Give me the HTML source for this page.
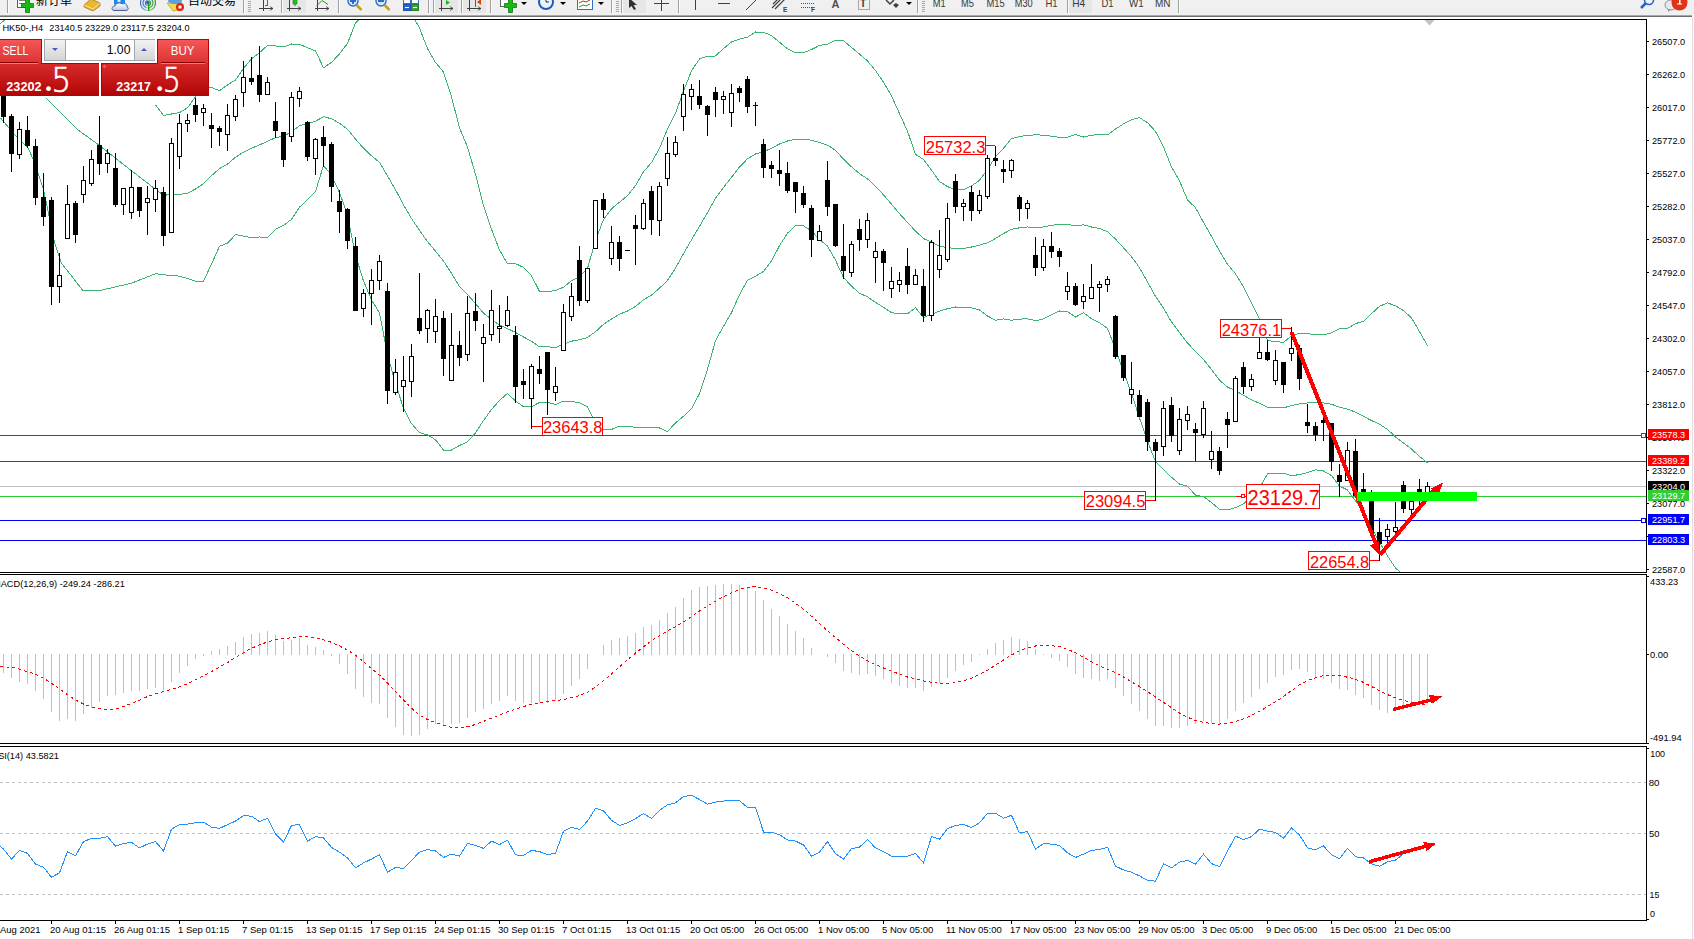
<!DOCTYPE html><html><head><meta charset="utf-8"><style>html,body{margin:0;padding:0}body{width:1694px;height:939px;overflow:hidden;background:#fff;position:relative}</style></head><body>
<svg width="1694" height="939" viewBox="0 0 1694 939" style="position:absolute;left:0;top:0" shape-rendering="crispEdges">
<g fill="#000">
<rect x="0" y="19" width="1647" height="1"/>
<rect x="1646" y="19" width="1" height="554"/>
<rect x="0" y="572" width="1647" height="1"/>
<rect x="0" y="574" width="1647" height="1"/>
<rect x="1646" y="574" width="1" height="170"/>
<rect x="0" y="743" width="1647" height="1"/>
<rect x="0" y="746" width="1647" height="1"/>
<rect x="1646" y="746" width="1" height="175"/>
<rect x="0" y="920" width="1647" height="1"/>
</g>
<defs><clipPath id="cm"><rect x="0" y="20" width="1646" height="552"/></clipPath><clipPath id="cmacd"><rect x="0" y="575" width="1646" height="168"/></clipPath><clipPath id="crsi"><rect x="0" y="747" width="1646" height="173"/></clipPath></defs>
<g clip-path="url(#cm)">
<rect x="0" y="435" width="1646" height="1" fill="#ff0000"/>
<rect x="0" y="461" width="1646" height="1" fill="#ff0000"/>
<rect x="0" y="486" width="1646" height="1" fill="#c0c0c0"/>
<rect x="0" y="496" width="1646" height="1" fill="#32cd32"/>
<rect x="0" y="520" width="1646" height="1" fill="#0000ff"/>
<rect x="0" y="540" width="1646" height="1" fill="#0000ff"/>
<rect x="1641.5" y="433.5" width="4" height="4" fill="#fff" stroke="#ff0000" stroke-width="1"/>
<rect x="1641.5" y="518.5" width="4" height="4" fill="#fff" stroke="#0000ff" stroke-width="1"/>
<polyline points="155.5,104.8 163.5,115.6 171.5,114.0 179.5,112.6 187.5,107.8 195.5,96.9 203.5,86.0 211.5,87.4 219.5,90.8 227.5,84.9 235.5,80.1 243.5,68.3 251.5,58.9 259.5,52.7 267.5,45.4 275.5,45.9 283.5,46.9 291.5,44.0 299.5,44.2 307.5,47.8 315.5,50.9 323.5,67.8 331.5,62.4 339.5,53.9 347.5,43.4 355.5,23.0 363.5,15.4 371.5,11.6 379.5,11.6 387.5,-2.5 395.5,-4.2 403.5,1.4 411.5,13.4 419.5,28.0 427.5,48.6 435.5,62.5 443.5,72.0 451.5,96.8 459.5,127.9 467.5,147.2 475.5,174.3 483.5,205.8 491.5,229.2 499.5,249.9 507.5,263.8 515.5,263.7 523.5,267.3 531.5,275.8 539.5,291.4 547.5,291.5 555.5,290.6 563.5,287.2 571.5,280.7 579.5,276.7 587.5,268.3 595.5,240.5 603.5,219.5 611.5,208.8 619.5,202.2 627.5,195.6 635.5,185.6 643.5,171.8 651.5,162.6 659.5,148.3 667.5,129.0 675.5,113.4 683.5,91.0 691.5,70.8 699.5,59.0 707.5,56.2 715.5,56.0 723.5,48.5 731.5,42.0 739.5,39.1 747.5,37.2 755.5,32.0 763.5,32.3 771.5,35.5 779.5,42.2 787.5,48.8 795.5,52.7 803.5,52.6 811.5,49.6 819.5,45.4 827.5,44.2 835.5,40.4 843.5,40.7 851.5,47.5 859.5,54.0 867.5,60.9 875.5,70.5 883.5,82.3 891.5,95.8 899.5,113.6 907.5,131.2 915.5,154.4 923.5,159.4 931.5,170.2 939.5,181.5 947.5,186.6 955.5,189.9 963.5,189.6 971.5,186.0 979.5,180.3 987.5,169.5 995.5,156.8 1003.5,148.2 1011.5,138.5 1019.5,136.6 1027.5,135.2 1035.5,134.9 1043.5,135.1 1051.5,136.2 1059.5,137.4 1067.5,137.2 1075.5,134.5 1083.5,137.0 1091.5,135.3 1099.5,134.2 1107.5,134.9 1115.5,129.1 1123.5,123.9 1131.5,119.8 1139.5,117.6 1147.5,122.6 1155.5,131.4 1163.5,147.0 1171.5,166.8 1179.5,181.0 1187.5,199.9 1195.5,207.7 1203.5,222.3 1211.5,236.4 1219.5,251.1 1227.5,264.3 1235.5,273.9 1243.5,286.8 1251.5,302.8 1259.5,318.6 1267.5,340.7 1275.5,341.5 1283.5,342.4 1291.5,335.8 1299.5,333.1 1307.5,333.6 1315.5,334.7 1323.5,334.9 1331.5,332.9 1339.5,328.6 1347.5,328.3 1355.5,323.6 1363.5,321.3 1371.5,313.6 1379.5,306.3 1387.5,302.9 1395.5,305.8 1403.5,310.6 1411.5,317.8 1419.5,331.5 1427.5,345.7" fill="none" stroke="#3cb371" stroke-width="1" />
<polyline points="0.0,24.0 7.0,18.0" fill="none" stroke="#3cb371" stroke-width="1" />
<polyline points="46.2,98.2 77.8,129.8 98.9,145.0 131.5,170.8 155.5,189.2 163.5,195.2 171.5,194.7 179.5,194.4 187.5,193.2 195.5,189.0 203.5,183.6 211.5,175.7 219.5,168.5 227.5,164.1 235.5,157.3 243.5,152.2 251.5,148.3 259.5,144.9 267.5,141.3 275.5,137.6 283.5,136.2 291.5,131.7 299.5,125.7 307.5,123.6 315.5,121.2 323.5,116.7 331.5,118.8 339.5,123.2 347.5,129.2 355.5,139.0 363.5,148.2 371.5,155.8 379.5,162.3 387.5,176.0 395.5,189.7 403.5,204.8 411.5,218.5 419.5,230.3 427.5,241.7 435.5,251.1 443.5,261.0 451.5,273.4 459.5,286.7 467.5,294.5 475.5,303.6 483.5,313.2 491.5,319.4 499.5,325.1 507.5,328.6 515.5,332.4 523.5,337.0 531.5,341.3 539.5,346.9 547.5,346.8 555.5,347.5 563.5,344.2 571.5,341.2 579.5,339.7 587.5,337.5 595.5,331.7 603.5,324.3 611.5,319.1 619.5,314.2 627.5,311.0 635.5,306.4 643.5,299.7 651.5,295.1 659.5,288.2 667.5,280.3 675.5,268.1 683.5,253.6 691.5,239.8 699.5,226.3 707.5,212.6 715.5,198.3 723.5,187.4 731.5,177.3 739.5,166.9 747.5,158.8 755.5,154.0 763.5,151.9 771.5,148.2 779.5,144.0 787.5,141.0 795.5,139.2 803.5,139.2 811.5,140.2 819.5,142.5 827.5,145.1 835.5,150.3 843.5,159.1 851.5,166.8 859.5,173.6 867.5,178.8 875.5,186.5 883.5,194.8 891.5,204.2 899.5,213.7 907.5,222.5 915.5,231.0 923.5,238.5 931.5,242.2 939.5,246.3 947.5,247.7 955.5,248.4 963.5,248.4 971.5,247.0 979.5,245.1 987.5,242.8 995.5,238.5 1003.5,233.5 1011.5,229.4 1019.5,227.8 1027.5,227.0 1035.5,227.8 1043.5,227.0 1051.5,225.4 1059.5,224.2 1067.5,224.3 1075.5,225.8 1083.5,224.8 1091.5,227.0 1099.5,228.5 1107.5,231.6 1115.5,239.1 1123.5,247.8 1131.5,256.7 1139.5,267.8 1147.5,281.9 1155.5,296.4 1163.5,308.3 1171.5,322.0 1179.5,332.5 1187.5,343.1 1195.5,351.4 1203.5,359.5 1211.5,369.5 1219.5,380.2 1227.5,387.1 1235.5,390.8 1243.5,395.3 1251.5,399.9 1259.5,403.2 1267.5,407.2 1275.5,407.4 1283.5,407.8 1291.5,405.7 1299.5,403.8 1307.5,403.0 1315.5,402.2 1323.5,402.9 1331.5,404.2 1339.5,407.3 1347.5,409.1 1355.5,412.2 1363.5,416.4 1371.5,420.5 1379.5,424.2 1387.5,429.4 1395.5,436.9 1403.5,443.0 1411.5,449.1 1419.5,456.4 1427.5,462.8" fill="none" stroke="#3cb371" stroke-width="1" />
<polyline points="0.5,118.0 14.5,134.5 28.5,148.5 35.5,165.0 43.8,190.7 54.4,242.2 61.5,263.3 70.8,275.0 82.5,290.2 101.2,290.2 131.5,283.2 155.5,273.7 163.5,274.8 171.5,275.4 179.5,276.2 187.5,278.5 195.5,281.1 203.5,281.2 211.5,264.1 219.5,246.2 227.5,243.2 235.5,234.6 243.5,236.1 251.5,237.7 259.5,237.0 267.5,237.3 275.5,229.3 283.5,225.4 291.5,219.4 299.5,207.2 307.5,199.5 315.5,191.5 323.5,165.5 331.5,175.2 339.5,192.5 347.5,215.0 355.5,255.0 363.5,281.0 371.5,299.9 379.5,313.0 387.5,354.6 395.5,383.6 403.5,408.2 411.5,423.6 419.5,432.7 427.5,434.9 435.5,439.7 443.5,450.0 451.5,450.0 459.5,445.5 467.5,441.9 475.5,432.8 483.5,420.5 491.5,409.6 499.5,400.4 507.5,393.4 515.5,401.1 523.5,406.6 531.5,406.8 539.5,402.4 547.5,402.2 555.5,404.5 563.5,401.1 571.5,401.6 579.5,402.6 587.5,406.8 595.5,423.0 603.5,429.2 611.5,429.4 619.5,426.1 627.5,426.4 635.5,427.3 643.5,427.6 651.5,427.7 659.5,428.0 667.5,431.6 675.5,422.8 683.5,416.3 691.5,408.8 699.5,393.6 707.5,369.1 715.5,340.6 723.5,326.3 731.5,312.6 739.5,294.7 747.5,280.3 755.5,276.1 763.5,271.5 771.5,260.9 779.5,245.7 787.5,233.2 795.5,225.7 803.5,225.9 811.5,230.9 819.5,239.6 827.5,246.0 835.5,260.2 843.5,277.5 851.5,286.1 859.5,293.2 867.5,296.8 875.5,302.4 883.5,307.4 891.5,312.6 899.5,313.7 907.5,313.9 915.5,307.7 923.5,317.5 931.5,314.2 939.5,311.2 947.5,308.7 955.5,307.0 963.5,307.2 971.5,307.9 979.5,309.9 987.5,316.0 995.5,320.2 1003.5,318.9 1011.5,320.3 1019.5,319.1 1027.5,318.8 1035.5,320.7 1043.5,318.9 1051.5,314.7 1059.5,311.0 1067.5,311.5 1075.5,317.1 1083.5,312.6 1091.5,318.8 1099.5,322.8 1107.5,328.3 1115.5,349.1 1123.5,371.6 1131.5,393.6 1139.5,418.0 1147.5,441.2 1155.5,461.4 1163.5,469.6 1171.5,477.2 1179.5,484.0 1187.5,486.2 1195.5,495.1 1203.5,496.6 1211.5,502.5 1219.5,509.2 1227.5,509.9 1235.5,507.6 1243.5,503.8 1251.5,496.9 1259.5,487.9 1267.5,473.8 1275.5,473.4 1283.5,473.1 1291.5,475.7 1299.5,474.6 1307.5,472.5 1315.5,469.7 1323.5,471.0 1331.5,475.6 1339.5,486.1 1347.5,490.0 1355.5,500.9 1363.5,511.5 1371.5,527.3 1379.5,542.1 1387.5,555.9 1395.5,567.9 1403.5,575.3 1411.5,580.3 1419.5,581.3 1427.5,579.8" fill="none" stroke="#3cb371" stroke-width="1" />
<g>
<rect x="3" y="90" width="1" height="33" fill="#000"/>
<rect x="1" y="95" width="5" height="22" fill="#000"/>
<rect x="11" y="114" width="1" height="58" fill="#000"/>
<rect x="9" y="116" width="5" height="38" fill="#000"/>
<rect x="19" y="122" width="1" height="37" fill="#000"/>
<rect x="17" y="129" width="5" height="26" fill="#000"/>
<rect x="18" y="130" width="3" height="24" fill="#fff"/>
<rect x="27" y="116" width="1" height="32" fill="#000"/>
<rect x="25" y="130" width="5" height="16" fill="#000"/>
<rect x="35" y="139" width="1" height="66" fill="#000"/>
<rect x="33" y="146" width="5" height="52" fill="#000"/>
<rect x="43" y="173" width="1" height="53" fill="#000"/>
<rect x="41" y="197" width="5" height="20" fill="#000"/>
<rect x="51" y="197" width="1" height="108" fill="#000"/>
<rect x="49" y="200" width="5" height="87" fill="#000"/>
<rect x="59" y="253" width="1" height="50" fill="#000"/>
<rect x="57" y="275" width="5" height="12" fill="#000"/>
<rect x="58" y="276" width="3" height="10" fill="#fff"/>
<rect x="67" y="185" width="1" height="54" fill="#000"/>
<rect x="65" y="204" width="5" height="35" fill="#000"/>
<rect x="66" y="205" width="3" height="33" fill="#fff"/>
<rect x="75" y="201" width="1" height="42" fill="#000"/>
<rect x="73" y="203" width="5" height="32" fill="#000"/>
<rect x="83" y="166" width="1" height="37" fill="#000"/>
<rect x="81" y="180" width="5" height="15" fill="#000"/>
<rect x="82" y="181" width="3" height="13" fill="#fff"/>
<rect x="91" y="150" width="1" height="36" fill="#000"/>
<rect x="89" y="159" width="5" height="25" fill="#000"/>
<rect x="90" y="160" width="3" height="23" fill="#fff"/>
<rect x="99" y="116" width="1" height="59" fill="#000"/>
<rect x="97" y="145" width="5" height="19" fill="#000"/>
<rect x="107" y="149" width="1" height="24" fill="#000"/>
<rect x="105" y="153" width="5" height="11" fill="#000"/>
<rect x="106" y="154" width="3" height="9" fill="#fff"/>
<rect x="115" y="153" width="1" height="54" fill="#000"/>
<rect x="113" y="168" width="5" height="37" fill="#000"/>
<rect x="123" y="188" width="1" height="27" fill="#000"/>
<rect x="121" y="188" width="5" height="17" fill="#000"/>
<rect x="122" y="189" width="3" height="15" fill="#fff"/>
<rect x="131" y="170" width="1" height="49" fill="#000"/>
<rect x="129" y="187" width="5" height="26" fill="#000"/>
<rect x="130" y="188" width="3" height="24" fill="#fff"/>
<rect x="139" y="187" width="1" height="30" fill="#000"/>
<rect x="137" y="187" width="5" height="24" fill="#000"/>
<rect x="147" y="186" width="1" height="49" fill="#000"/>
<rect x="145" y="198" width="5" height="5" fill="#000"/>
<rect x="146" y="199" width="3" height="3" fill="#fff"/>
<rect x="155" y="180" width="1" height="32" fill="#000"/>
<rect x="153" y="188" width="5" height="12" fill="#000"/>
<rect x="154" y="189" width="3" height="10" fill="#fff"/>
<rect x="163" y="187" width="1" height="59" fill="#000"/>
<rect x="161" y="192" width="5" height="44" fill="#000"/>
<rect x="171" y="138" width="1" height="95" fill="#000"/>
<rect x="169" y="143" width="5" height="90" fill="#000"/>
<rect x="170" y="144" width="3" height="88" fill="#fff"/>
<rect x="179" y="114" width="1" height="55" fill="#000"/>
<rect x="177" y="123" width="5" height="34" fill="#000"/>
<rect x="178" y="124" width="3" height="32" fill="#fff"/>
<rect x="187" y="114" width="1" height="18" fill="#000"/>
<rect x="185" y="120" width="5" height="4" fill="#000"/>
<rect x="186" y="121" width="3" height="2" fill="#fff"/>
<rect x="195" y="98" width="1" height="24" fill="#000"/>
<rect x="193" y="105" width="5" height="10" fill="#000"/>
<rect x="203" y="104" width="1" height="22" fill="#000"/>
<rect x="201" y="108" width="5" height="5" fill="#000"/>
<rect x="202" y="109" width="3" height="3" fill="#fff"/>
<rect x="211" y="113" width="1" height="35" fill="#000"/>
<rect x="209" y="125" width="5" height="4" fill="#000"/>
<rect x="219" y="126" width="1" height="20" fill="#000"/>
<rect x="217" y="128" width="5" height="4" fill="#000"/>
<rect x="227" y="104" width="1" height="47" fill="#000"/>
<rect x="225" y="115" width="5" height="20" fill="#000"/>
<rect x="226" y="116" width="3" height="18" fill="#fff"/>
<rect x="235" y="95" width="1" height="26" fill="#000"/>
<rect x="233" y="99" width="5" height="18" fill="#000"/>
<rect x="234" y="100" width="3" height="16" fill="#fff"/>
<rect x="243" y="61" width="1" height="46" fill="#000"/>
<rect x="241" y="77" width="5" height="16" fill="#000"/>
<rect x="242" y="78" width="3" height="14" fill="#fff"/>
<rect x="251" y="57" width="1" height="28" fill="#000"/>
<rect x="249" y="78" width="5" height="4" fill="#000"/>
<rect x="259" y="46" width="1" height="56" fill="#000"/>
<rect x="257" y="75" width="5" height="20" fill="#000"/>
<rect x="267" y="77" width="1" height="18" fill="#000"/>
<rect x="265" y="82" width="5" height="13" fill="#000"/>
<rect x="266" y="83" width="3" height="11" fill="#fff"/>
<rect x="275" y="102" width="1" height="36" fill="#000"/>
<rect x="273" y="121" width="5" height="10" fill="#000"/>
<rect x="283" y="132" width="1" height="35" fill="#000"/>
<rect x="281" y="132" width="5" height="28" fill="#000"/>
<rect x="291" y="92" width="1" height="50" fill="#000"/>
<rect x="289" y="97" width="5" height="40" fill="#000"/>
<rect x="290" y="98" width="3" height="38" fill="#fff"/>
<rect x="299" y="87" width="1" height="20" fill="#000"/>
<rect x="297" y="91" width="5" height="8" fill="#000"/>
<rect x="298" y="92" width="3" height="6" fill="#fff"/>
<rect x="307" y="121" width="1" height="40" fill="#000"/>
<rect x="305" y="122" width="5" height="35" fill="#000"/>
<rect x="315" y="138" width="1" height="37" fill="#000"/>
<rect x="313" y="139" width="5" height="20" fill="#000"/>
<rect x="314" y="140" width="3" height="18" fill="#fff"/>
<rect x="323" y="126" width="1" height="41" fill="#000"/>
<rect x="321" y="137" width="5" height="9" fill="#000"/>
<rect x="331" y="142" width="1" height="60" fill="#000"/>
<rect x="329" y="144" width="5" height="43" fill="#000"/>
<rect x="339" y="190" width="1" height="43" fill="#000"/>
<rect x="337" y="201" width="5" height="11" fill="#000"/>
<rect x="347" y="208" width="1" height="41" fill="#000"/>
<rect x="345" y="209" width="5" height="32" fill="#000"/>
<rect x="355" y="237" width="1" height="74" fill="#000"/>
<rect x="353" y="246" width="5" height="65" fill="#000"/>
<rect x="363" y="289" width="1" height="28" fill="#000"/>
<rect x="361" y="293" width="5" height="16" fill="#000"/>
<rect x="362" y="294" width="3" height="14" fill="#fff"/>
<rect x="371" y="269" width="1" height="56" fill="#000"/>
<rect x="369" y="280" width="5" height="14" fill="#000"/>
<rect x="370" y="281" width="3" height="12" fill="#fff"/>
<rect x="379" y="255" width="1" height="35" fill="#000"/>
<rect x="377" y="261" width="5" height="20" fill="#000"/>
<rect x="378" y="262" width="3" height="18" fill="#fff"/>
<rect x="387" y="283" width="1" height="121" fill="#000"/>
<rect x="385" y="291" width="5" height="100" fill="#000"/>
<rect x="395" y="359" width="1" height="36" fill="#000"/>
<rect x="393" y="372" width="5" height="21" fill="#000"/>
<rect x="394" y="373" width="3" height="19" fill="#fff"/>
<rect x="403" y="356" width="1" height="56" fill="#000"/>
<rect x="401" y="380" width="5" height="7" fill="#000"/>
<rect x="402" y="381" width="3" height="5" fill="#fff"/>
<rect x="411" y="344" width="1" height="53" fill="#000"/>
<rect x="409" y="356" width="5" height="26" fill="#000"/>
<rect x="410" y="357" width="3" height="24" fill="#fff"/>
<rect x="419" y="273" width="1" height="61" fill="#000"/>
<rect x="417" y="318" width="5" height="13" fill="#000"/>
<rect x="427" y="309" width="1" height="34" fill="#000"/>
<rect x="425" y="310" width="5" height="19" fill="#000"/>
<rect x="426" y="311" width="3" height="17" fill="#fff"/>
<rect x="435" y="299" width="1" height="44" fill="#000"/>
<rect x="433" y="316" width="5" height="16" fill="#000"/>
<rect x="434" y="317" width="3" height="14" fill="#fff"/>
<rect x="443" y="311" width="1" height="65" fill="#000"/>
<rect x="441" y="318" width="5" height="41" fill="#000"/>
<rect x="451" y="313" width="1" height="68" fill="#000"/>
<rect x="449" y="345" width="5" height="36" fill="#000"/>
<rect x="450" y="346" width="3" height="34" fill="#fff"/>
<rect x="459" y="331" width="1" height="35" fill="#000"/>
<rect x="457" y="345" width="5" height="13" fill="#000"/>
<rect x="467" y="296" width="1" height="65" fill="#000"/>
<rect x="465" y="313" width="5" height="42" fill="#000"/>
<rect x="466" y="314" width="3" height="40" fill="#fff"/>
<rect x="475" y="293" width="1" height="38" fill="#000"/>
<rect x="473" y="311" width="5" height="10" fill="#000"/>
<rect x="483" y="324" width="1" height="58" fill="#000"/>
<rect x="481" y="337" width="5" height="7" fill="#000"/>
<rect x="482" y="338" width="3" height="5" fill="#fff"/>
<rect x="491" y="290" width="1" height="51" fill="#000"/>
<rect x="489" y="310" width="5" height="25" fill="#000"/>
<rect x="490" y="311" width="3" height="23" fill="#fff"/>
<rect x="499" y="305" width="1" height="38" fill="#000"/>
<rect x="497" y="326" width="5" height="3" fill="#000"/>
<rect x="498" y="327" width="3" height="1" fill="#fff"/>
<rect x="507" y="296" width="1" height="31" fill="#000"/>
<rect x="505" y="310" width="5" height="16" fill="#000"/>
<rect x="506" y="311" width="3" height="14" fill="#fff"/>
<rect x="515" y="326" width="1" height="77" fill="#000"/>
<rect x="513" y="335" width="5" height="52" fill="#000"/>
<rect x="523" y="369" width="1" height="30" fill="#000"/>
<rect x="521" y="381" width="5" height="4" fill="#000"/>
<rect x="531" y="364" width="1" height="65" fill="#000"/>
<rect x="529" y="366" width="5" height="33" fill="#000"/>
<rect x="530" y="367" width="3" height="31" fill="#fff"/>
<rect x="539" y="356" width="1" height="28" fill="#000"/>
<rect x="537" y="369" width="5" height="5" fill="#000"/>
<rect x="547" y="352" width="1" height="63" fill="#000"/>
<rect x="545" y="352" width="5" height="38" fill="#000"/>
<rect x="555" y="367" width="1" height="34" fill="#000"/>
<rect x="553" y="386" width="5" height="7" fill="#000"/>
<rect x="554" y="387" width="3" height="5" fill="#fff"/>
<rect x="563" y="304" width="1" height="47" fill="#000"/>
<rect x="561" y="312" width="5" height="39" fill="#000"/>
<rect x="562" y="313" width="3" height="37" fill="#fff"/>
<rect x="571" y="283" width="1" height="38" fill="#000"/>
<rect x="569" y="296" width="5" height="21" fill="#000"/>
<rect x="570" y="297" width="3" height="19" fill="#fff"/>
<rect x="579" y="246" width="1" height="60" fill="#000"/>
<rect x="577" y="260" width="5" height="41" fill="#000"/>
<rect x="587" y="268" width="1" height="35" fill="#000"/>
<rect x="585" y="268" width="5" height="33" fill="#000"/>
<rect x="586" y="269" width="3" height="31" fill="#fff"/>
<rect x="595" y="200" width="1" height="49" fill="#000"/>
<rect x="593" y="200" width="5" height="49" fill="#000"/>
<rect x="594" y="201" width="3" height="47" fill="#fff"/>
<rect x="603" y="193" width="1" height="25" fill="#000"/>
<rect x="601" y="199" width="5" height="11" fill="#000"/>
<rect x="611" y="226" width="1" height="39" fill="#000"/>
<rect x="609" y="242" width="5" height="17" fill="#000"/>
<rect x="610" y="243" width="3" height="15" fill="#fff"/>
<rect x="619" y="236" width="1" height="35" fill="#000"/>
<rect x="617" y="242" width="5" height="17" fill="#000"/>
<rect x="625" y="250" width="5" height="1" fill="#000"/>
<rect x="635" y="215" width="1" height="50" fill="#000"/>
<rect x="633" y="225" width="5" height="4" fill="#000"/>
<rect x="643" y="199" width="1" height="31" fill="#000"/>
<rect x="641" y="203" width="5" height="26" fill="#000"/>
<rect x="642" y="204" width="3" height="24" fill="#fff"/>
<rect x="651" y="186" width="1" height="49" fill="#000"/>
<rect x="649" y="191" width="5" height="29" fill="#000"/>
<rect x="659" y="182" width="1" height="54" fill="#000"/>
<rect x="657" y="186" width="5" height="35" fill="#000"/>
<rect x="658" y="187" width="3" height="33" fill="#fff"/>
<rect x="667" y="137" width="1" height="49" fill="#000"/>
<rect x="665" y="153" width="5" height="26" fill="#000"/>
<rect x="666" y="154" width="3" height="24" fill="#fff"/>
<rect x="675" y="136" width="1" height="21" fill="#000"/>
<rect x="673" y="142" width="5" height="13" fill="#000"/>
<rect x="674" y="143" width="3" height="11" fill="#fff"/>
<rect x="683" y="84" width="1" height="47" fill="#000"/>
<rect x="681" y="94" width="5" height="23" fill="#000"/>
<rect x="682" y="95" width="3" height="21" fill="#fff"/>
<rect x="691" y="84" width="1" height="26" fill="#000"/>
<rect x="689" y="89" width="5" height="8" fill="#000"/>
<rect x="690" y="90" width="3" height="6" fill="#fff"/>
<rect x="699" y="80" width="1" height="29" fill="#000"/>
<rect x="697" y="96" width="5" height="9" fill="#000"/>
<rect x="707" y="105" width="1" height="31" fill="#000"/>
<rect x="705" y="106" width="5" height="9" fill="#000"/>
<rect x="715" y="87" width="1" height="30" fill="#000"/>
<rect x="713" y="92" width="5" height="8" fill="#000"/>
<rect x="723" y="91" width="1" height="23" fill="#000"/>
<rect x="721" y="96" width="5" height="4" fill="#000"/>
<rect x="722" y="97" width="3" height="2" fill="#fff"/>
<rect x="731" y="84" width="1" height="43" fill="#000"/>
<rect x="729" y="93" width="5" height="20" fill="#000"/>
<rect x="730" y="94" width="3" height="18" fill="#fff"/>
<rect x="739" y="86" width="1" height="16" fill="#000"/>
<rect x="737" y="88" width="5" height="5" fill="#000"/>
<rect x="747" y="76" width="1" height="37" fill="#000"/>
<rect x="745" y="79" width="5" height="28" fill="#000"/>
<rect x="755" y="102" width="1" height="24" fill="#000"/>
<rect x="753" y="105" width="5" height="1" fill="#000"/>
<rect x="763" y="139" width="1" height="39" fill="#000"/>
<rect x="761" y="144" width="5" height="24" fill="#000"/>
<rect x="771" y="161" width="1" height="17" fill="#000"/>
<rect x="769" y="165" width="5" height="4" fill="#000"/>
<rect x="779" y="150" width="1" height="36" fill="#000"/>
<rect x="777" y="170" width="5" height="4" fill="#000"/>
<rect x="787" y="162" width="1" height="31" fill="#000"/>
<rect x="785" y="173" width="5" height="18" fill="#000"/>
<rect x="795" y="182" width="1" height="31" fill="#000"/>
<rect x="793" y="182" width="5" height="10" fill="#000"/>
<rect x="803" y="186" width="1" height="22" fill="#000"/>
<rect x="801" y="193" width="5" height="12" fill="#000"/>
<rect x="811" y="205" width="1" height="52" fill="#000"/>
<rect x="809" y="208" width="5" height="32" fill="#000"/>
<rect x="819" y="225" width="1" height="16" fill="#000"/>
<rect x="817" y="231" width="5" height="10" fill="#000"/>
<rect x="818" y="232" width="3" height="8" fill="#fff"/>
<rect x="827" y="161" width="1" height="55" fill="#000"/>
<rect x="825" y="180" width="5" height="27" fill="#000"/>
<rect x="835" y="204" width="1" height="43" fill="#000"/>
<rect x="833" y="204" width="5" height="42" fill="#000"/>
<rect x="843" y="224" width="1" height="55" fill="#000"/>
<rect x="841" y="256" width="5" height="15" fill="#000"/>
<rect x="851" y="241" width="1" height="36" fill="#000"/>
<rect x="849" y="244" width="5" height="29" fill="#000"/>
<rect x="850" y="245" width="3" height="27" fill="#fff"/>
<rect x="859" y="219" width="1" height="32" fill="#000"/>
<rect x="857" y="229" width="5" height="11" fill="#000"/>
<rect x="867" y="213" width="1" height="35" fill="#000"/>
<rect x="865" y="220" width="5" height="20" fill="#000"/>
<rect x="866" y="221" width="3" height="18" fill="#fff"/>
<rect x="875" y="242" width="1" height="41" fill="#000"/>
<rect x="873" y="251" width="5" height="7" fill="#000"/>
<rect x="874" y="252" width="3" height="5" fill="#fff"/>
<rect x="883" y="249" width="1" height="42" fill="#000"/>
<rect x="881" y="251" width="5" height="12" fill="#000"/>
<rect x="891" y="267" width="1" height="31" fill="#000"/>
<rect x="889" y="281" width="5" height="8" fill="#000"/>
<rect x="890" y="282" width="3" height="6" fill="#fff"/>
<rect x="899" y="272" width="1" height="20" fill="#000"/>
<rect x="897" y="280" width="5" height="5" fill="#000"/>
<rect x="898" y="281" width="3" height="3" fill="#fff"/>
<rect x="907" y="248" width="1" height="46" fill="#000"/>
<rect x="905" y="266" width="5" height="19" fill="#000"/>
<rect x="915" y="269" width="1" height="16" fill="#000"/>
<rect x="913" y="275" width="5" height="10" fill="#000"/>
<rect x="914" y="276" width="3" height="8" fill="#fff"/>
<rect x="923" y="269" width="1" height="53" fill="#000"/>
<rect x="921" y="286" width="5" height="30" fill="#000"/>
<rect x="931" y="240" width="1" height="81" fill="#000"/>
<rect x="929" y="242" width="5" height="74" fill="#000"/>
<rect x="930" y="243" width="3" height="72" fill="#fff"/>
<rect x="939" y="230" width="1" height="48" fill="#000"/>
<rect x="937" y="255" width="5" height="15" fill="#000"/>
<rect x="938" y="256" width="3" height="13" fill="#fff"/>
<rect x="947" y="203" width="1" height="59" fill="#000"/>
<rect x="945" y="218" width="5" height="42" fill="#000"/>
<rect x="946" y="219" width="3" height="40" fill="#fff"/>
<rect x="955" y="174" width="1" height="39" fill="#000"/>
<rect x="953" y="181" width="5" height="26" fill="#000"/>
<rect x="963" y="199" width="1" height="22" fill="#000"/>
<rect x="961" y="203" width="5" height="4" fill="#000"/>
<rect x="962" y="204" width="3" height="2" fill="#fff"/>
<rect x="971" y="186" width="1" height="35" fill="#000"/>
<rect x="969" y="192" width="5" height="19" fill="#000"/>
<rect x="979" y="190" width="1" height="24" fill="#000"/>
<rect x="977" y="195" width="5" height="16" fill="#000"/>
<rect x="978" y="196" width="3" height="14" fill="#fff"/>
<rect x="987" y="155" width="1" height="44" fill="#000"/>
<rect x="985" y="158" width="5" height="39" fill="#000"/>
<rect x="986" y="159" width="3" height="37" fill="#fff"/>
<rect x="995" y="146" width="1" height="20" fill="#000"/>
<rect x="993" y="158" width="5" height="3" fill="#000"/>
<rect x="1003" y="160" width="1" height="23" fill="#000"/>
<rect x="1001" y="169" width="5" height="3" fill="#000"/>
<rect x="1011" y="159" width="1" height="19" fill="#000"/>
<rect x="1009" y="160" width="5" height="11" fill="#000"/>
<rect x="1010" y="161" width="3" height="9" fill="#fff"/>
<rect x="1019" y="195" width="1" height="26" fill="#000"/>
<rect x="1017" y="197" width="5" height="12" fill="#000"/>
<rect x="1027" y="200" width="1" height="19" fill="#000"/>
<rect x="1025" y="203" width="5" height="6" fill="#000"/>
<rect x="1026" y="204" width="3" height="4" fill="#fff"/>
<rect x="1035" y="237" width="1" height="39" fill="#000"/>
<rect x="1033" y="255" width="5" height="13" fill="#000"/>
<rect x="1043" y="239" width="1" height="32" fill="#000"/>
<rect x="1041" y="246" width="5" height="22" fill="#000"/>
<rect x="1042" y="247" width="3" height="20" fill="#fff"/>
<rect x="1051" y="232" width="1" height="26" fill="#000"/>
<rect x="1049" y="246" width="5" height="6" fill="#000"/>
<rect x="1059" y="248" width="1" height="19" fill="#000"/>
<rect x="1057" y="251" width="5" height="6" fill="#000"/>
<rect x="1067" y="272" width="1" height="28" fill="#000"/>
<rect x="1065" y="286" width="5" height="6" fill="#000"/>
<rect x="1066" y="287" width="3" height="4" fill="#fff"/>
<rect x="1075" y="283" width="1" height="23" fill="#000"/>
<rect x="1073" y="286" width="5" height="19" fill="#000"/>
<rect x="1083" y="284" width="1" height="25" fill="#000"/>
<rect x="1081" y="296" width="5" height="6" fill="#000"/>
<rect x="1082" y="297" width="3" height="4" fill="#fff"/>
<rect x="1091" y="264" width="1" height="35" fill="#000"/>
<rect x="1089" y="287" width="5" height="12" fill="#000"/>
<rect x="1090" y="288" width="3" height="10" fill="#fff"/>
<rect x="1099" y="281" width="1" height="31" fill="#000"/>
<rect x="1097" y="284" width="5" height="4" fill="#000"/>
<rect x="1098" y="285" width="3" height="2" fill="#fff"/>
<rect x="1107" y="276" width="1" height="16" fill="#000"/>
<rect x="1105" y="279" width="5" height="6" fill="#000"/>
<rect x="1106" y="280" width="3" height="4" fill="#fff"/>
<rect x="1115" y="315" width="1" height="44" fill="#000"/>
<rect x="1113" y="316" width="5" height="41" fill="#000"/>
<rect x="1123" y="355" width="1" height="26" fill="#000"/>
<rect x="1121" y="355" width="5" height="23" fill="#000"/>
<rect x="1131" y="362" width="1" height="42" fill="#000"/>
<rect x="1129" y="389" width="5" height="6" fill="#000"/>
<rect x="1130" y="390" width="3" height="4" fill="#fff"/>
<rect x="1139" y="390" width="1" height="27" fill="#000"/>
<rect x="1137" y="395" width="5" height="22" fill="#000"/>
<rect x="1147" y="399" width="1" height="52" fill="#000"/>
<rect x="1145" y="402" width="5" height="40" fill="#000"/>
<rect x="1155" y="439" width="1" height="62" fill="#000"/>
<rect x="1153" y="442" width="5" height="9" fill="#000"/>
<rect x="1163" y="401" width="1" height="55" fill="#000"/>
<rect x="1161" y="408" width="5" height="39" fill="#000"/>
<rect x="1162" y="409" width="3" height="37" fill="#fff"/>
<rect x="1171" y="397" width="1" height="45" fill="#000"/>
<rect x="1169" y="405" width="5" height="31" fill="#000"/>
<rect x="1179" y="408" width="1" height="47" fill="#000"/>
<rect x="1177" y="419" width="5" height="32" fill="#000"/>
<rect x="1178" y="420" width="3" height="30" fill="#fff"/>
<rect x="1187" y="406" width="1" height="24" fill="#000"/>
<rect x="1185" y="414" width="5" height="7" fill="#000"/>
<rect x="1186" y="415" width="3" height="5" fill="#fff"/>
<rect x="1195" y="423" width="1" height="38" fill="#000"/>
<rect x="1193" y="429" width="5" height="4" fill="#000"/>
<rect x="1203" y="401" width="1" height="37" fill="#000"/>
<rect x="1201" y="408" width="5" height="27" fill="#000"/>
<rect x="1202" y="409" width="3" height="25" fill="#fff"/>
<rect x="1211" y="431" width="1" height="38" fill="#000"/>
<rect x="1209" y="451" width="5" height="9" fill="#000"/>
<rect x="1210" y="452" width="3" height="7" fill="#fff"/>
<rect x="1219" y="447" width="1" height="28" fill="#000"/>
<rect x="1217" y="451" width="5" height="20" fill="#000"/>
<rect x="1227" y="412" width="1" height="36" fill="#000"/>
<rect x="1225" y="419" width="5" height="6" fill="#000"/>
<rect x="1235" y="376" width="1" height="46" fill="#000"/>
<rect x="1233" y="378" width="5" height="44" fill="#000"/>
<rect x="1234" y="379" width="3" height="42" fill="#fff"/>
<rect x="1243" y="362" width="1" height="32" fill="#000"/>
<rect x="1241" y="367" width="5" height="20" fill="#000"/>
<rect x="1251" y="374" width="1" height="17" fill="#000"/>
<rect x="1249" y="379" width="5" height="8" fill="#000"/>
<rect x="1250" y="380" width="3" height="6" fill="#fff"/>
<rect x="1259" y="336" width="1" height="23" fill="#000"/>
<rect x="1257" y="352" width="5" height="7" fill="#000"/>
<rect x="1258" y="353" width="3" height="5" fill="#fff"/>
<rect x="1267" y="340" width="1" height="21" fill="#000"/>
<rect x="1265" y="352" width="5" height="8" fill="#000"/>
<rect x="1275" y="350" width="1" height="35" fill="#000"/>
<rect x="1273" y="360" width="5" height="21" fill="#000"/>
<rect x="1274" y="361" width="3" height="19" fill="#fff"/>
<rect x="1283" y="362" width="1" height="31" fill="#000"/>
<rect x="1281" y="362" width="5" height="23" fill="#000"/>
<rect x="1291" y="327" width="1" height="34" fill="#000"/>
<rect x="1289" y="348" width="5" height="6" fill="#000"/>
<rect x="1290" y="349" width="3" height="4" fill="#fff"/>
<rect x="1299" y="345" width="1" height="45" fill="#000"/>
<rect x="1297" y="348" width="5" height="31" fill="#000"/>
<rect x="1307" y="404" width="1" height="29" fill="#000"/>
<rect x="1305" y="422" width="5" height="4" fill="#000"/>
<rect x="1315" y="422" width="1" height="19" fill="#000"/>
<rect x="1313" y="426" width="5" height="9" fill="#000"/>
<rect x="1323" y="417" width="1" height="24" fill="#000"/>
<rect x="1321" y="420" width="5" height="3" fill="#000"/>
<rect x="1331" y="423" width="1" height="48" fill="#000"/>
<rect x="1329" y="423" width="5" height="39" fill="#000"/>
<rect x="1339" y="464" width="1" height="33" fill="#000"/>
<rect x="1337" y="475" width="5" height="7" fill="#000"/>
<rect x="1347" y="442" width="1" height="39" fill="#000"/>
<rect x="1345" y="450" width="5" height="31" fill="#000"/>
<rect x="1346" y="451" width="3" height="29" fill="#fff"/>
<rect x="1355" y="439" width="1" height="57" fill="#000"/>
<rect x="1353" y="451" width="5" height="45" fill="#000"/>
<rect x="1363" y="473" width="1" height="24" fill="#000"/>
<rect x="1361" y="489" width="5" height="4" fill="#000"/>
<rect x="1371" y="490" width="1" height="43" fill="#000"/>
<rect x="1369" y="492" width="5" height="41" fill="#000"/>
<rect x="1379" y="518" width="1" height="43" fill="#000"/>
<rect x="1377" y="532" width="5" height="12" fill="#000"/>
<rect x="1387" y="524" width="1" height="21" fill="#000"/>
<rect x="1385" y="529" width="5" height="8" fill="#000"/>
<rect x="1386" y="530" width="3" height="6" fill="#fff"/>
<rect x="1395" y="502" width="1" height="33" fill="#000"/>
<rect x="1393" y="527" width="5" height="5" fill="#000"/>
<rect x="1394" y="528" width="3" height="3" fill="#fff"/>
<rect x="1403" y="481" width="1" height="32" fill="#000"/>
<rect x="1401" y="485" width="5" height="24" fill="#000"/>
<rect x="1411" y="501" width="1" height="17" fill="#000"/>
<rect x="1409" y="501" width="5" height="9" fill="#000"/>
<rect x="1410" y="502" width="3" height="7" fill="#fff"/>
<rect x="1419" y="479" width="1" height="29" fill="#000"/>
<rect x="1417" y="489" width="5" height="10" fill="#000"/>
<rect x="1427" y="482" width="1" height="14" fill="#000"/>
<rect x="1425" y="486" width="5" height="8" fill="#000"/>
<rect x="1426" y="487" width="3" height="6" fill="#fff"/>
</g>
<rect x="986" y="145" width="9" height="1" fill="#ff0000"/>
<rect x="1282" y="328" width="9" height="1" fill="#ff0000"/>
<rect x="532" y="426" width="10" height="1" fill="#ff0000"/>
<rect x="1146" y="500" width="9" height="1" fill="#ff0000"/>
<rect x="1370" y="560" width="9" height="1" fill="#ff0000"/>
<rect x="1236" y="496" width="10" height="1" fill="#ff0000"/>
<rect x="1241.5" y="494.5" width="3" height="3" fill="#fff" stroke="#ff0000" stroke-width="1"/>
<rect x="924.5" y="136.5" width="61" height="18" fill="#fff" stroke="#ff0000" stroke-width="1"/>
<text x="925.8" y="153" font-family="Liberation Sans, Arial, sans-serif" font-size="17" fill="#ff0000" textLength="59.52" lengthAdjust="spacingAndGlyphs" shape-rendering="auto" >25732.3</text>
<rect x="1220.5" y="319.5" width="61" height="18" fill="#fff" stroke="#ff0000" stroke-width="1"/>
<text x="1221.7" y="335.6" font-family="Liberation Sans, Arial, sans-serif" font-size="17" fill="#ff0000" textLength="59.52" lengthAdjust="spacingAndGlyphs" shape-rendering="auto" >24376.1</text>
<rect x="542.5" y="417.5" width="60" height="18" fill="#fff" stroke="#ff0000" stroke-width="1"/>
<text x="542.9" y="433.4" font-family="Liberation Sans, Arial, sans-serif" font-size="17" fill="#ff0000" textLength="59.62" lengthAdjust="spacingAndGlyphs" shape-rendering="auto" >23643.8</text>
<rect x="1084.5" y="491.5" width="61" height="18" fill="#fff" stroke="#ff0000" stroke-width="1"/>
<text x="1085.8" y="507.2" font-family="Liberation Sans, Arial, sans-serif" font-size="17" fill="#ff0000" textLength="59.52" lengthAdjust="spacingAndGlyphs" shape-rendering="auto" >23094.5</text>
<rect x="1308.5" y="551.5" width="61" height="18" fill="#fff" stroke="#ff0000" stroke-width="1"/>
<text x="1309.9" y="567.8" font-family="Liberation Sans, Arial, sans-serif" font-size="17" fill="#ff0000" textLength="59.32" lengthAdjust="spacingAndGlyphs" shape-rendering="auto" >22654.8</text>
<rect x="1246.5" y="484.5" width="73" height="24" fill="#fff" stroke="#ff0000" stroke-width="1"/>
<text x="1247.6" y="505.2" font-family="Liberation Sans, Arial, sans-serif" font-size="21.4" fill="#ff0000" textLength="72.28" lengthAdjust="spacingAndGlyphs" shape-rendering="auto" >23129.7</text>
<g stroke="#ff0000" fill="none">
<line x1="1291.5" y1="332" x2="1377.5" y2="548" stroke-width="4"/>
<line x1="1380" y1="555" x2="1436" y2="488" stroke-width="4"/>
</g>
<polygon points="1369.8,545.5 1378.6,541 1380,555.5" fill="#ff0000"/>
<polygon points="1430.8,488.5 1443.2,482.5 1437.5,497" fill="#ff0000"/>
<rect x="1357" y="492" width="120" height="9" fill="#00ff00"/>
</g>
<g clip-path="url(#cmacd)">
<g fill="#c0c0c0">
<rect x="3" y="654" width="1" height="19"/>
<rect x="11" y="654" width="1" height="24"/>
<rect x="19" y="654" width="1" height="28"/>
<rect x="27" y="654" width="1" height="30"/>
<rect x="35" y="654" width="1" height="37"/>
<rect x="43" y="654" width="1" height="45"/>
<rect x="51" y="654" width="1" height="58"/>
<rect x="59" y="654" width="1" height="67"/>
<rect x="67" y="654" width="1" height="65"/>
<rect x="75" y="654" width="1" height="67"/>
<rect x="83" y="654" width="1" height="60"/>
<rect x="91" y="654" width="1" height="54"/>
<rect x="99" y="654" width="1" height="48"/>
<rect x="107" y="654" width="1" height="42"/>
<rect x="115" y="654" width="1" height="41"/>
<rect x="123" y="654" width="1" height="39"/>
<rect x="131" y="654" width="1" height="37"/>
<rect x="139" y="654" width="1" height="37"/>
<rect x="147" y="654" width="1" height="35"/>
<rect x="155" y="654" width="1" height="34"/>
<rect x="163" y="654" width="1" height="36"/>
<rect x="171" y="654" width="1" height="28"/>
<rect x="179" y="654" width="1" height="19"/>
<rect x="187" y="654" width="1" height="12"/>
<rect x="195" y="654" width="1" height="5"/>
<rect x="203" y="654" width="1" height="2"/>
<rect x="211" y="651" width="1" height="4"/>
<rect x="219" y="649" width="1" height="6"/>
<rect x="227" y="646" width="1" height="9"/>
<rect x="235" y="642" width="1" height="13"/>
<rect x="243" y="637" width="1" height="18"/>
<rect x="251" y="634" width="1" height="21"/>
<rect x="259" y="633" width="1" height="22"/>
<rect x="267" y="631" width="1" height="24"/>
<rect x="275" y="635" width="1" height="20"/>
<rect x="283" y="641" width="1" height="14"/>
<rect x="291" y="640" width="1" height="15"/>
<rect x="299" y="638" width="1" height="17"/>
<rect x="307" y="645" width="1" height="10"/>
<rect x="315" y="647" width="1" height="8"/>
<rect x="323" y="650" width="1" height="5"/>
<rect x="331" y="654" width="1" height="2"/>
<rect x="339" y="654" width="1" height="10"/>
<rect x="347" y="654" width="1" height="20"/>
<rect x="355" y="654" width="1" height="35"/>
<rect x="363" y="654" width="1" height="43"/>
<rect x="371" y="654" width="1" height="49"/>
<rect x="379" y="654" width="1" height="50"/>
<rect x="387" y="654" width="1" height="64"/>
<rect x="395" y="654" width="1" height="73"/>
<rect x="403" y="654" width="1" height="81"/>
<rect x="411" y="654" width="1" height="82"/>
<rect x="419" y="654" width="1" height="81"/>
<rect x="427" y="654" width="1" height="75"/>
<rect x="435" y="654" width="1" height="70"/>
<rect x="443" y="654" width="1" height="72"/>
<rect x="451" y="654" width="1" height="70"/>
<rect x="459" y="654" width="1" height="69"/>
<rect x="467" y="654" width="1" height="64"/>
<rect x="475" y="654" width="1" height="58"/>
<rect x="483" y="654" width="1" height="55"/>
<rect x="491" y="654" width="1" height="50"/>
<rect x="499" y="654" width="1" height="47"/>
<rect x="507" y="654" width="1" height="42"/>
<rect x="515" y="654" width="1" height="47"/>
<rect x="523" y="654" width="1" height="49"/>
<rect x="531" y="654" width="1" height="49"/>
<rect x="539" y="654" width="1" height="48"/>
<rect x="547" y="654" width="1" height="49"/>
<rect x="555" y="654" width="1" height="47"/>
<rect x="563" y="654" width="1" height="40"/>
<rect x="571" y="654" width="1" height="32"/>
<rect x="579" y="654" width="1" height="25"/>
<rect x="587" y="654" width="1" height="15"/>
<rect x="603" y="645" width="1" height="10"/>
<rect x="611" y="640" width="1" height="15"/>
<rect x="619" y="638" width="1" height="17"/>
<rect x="627" y="636" width="1" height="19"/>
<rect x="635" y="633" width="1" height="22"/>
<rect x="643" y="627" width="1" height="28"/>
<rect x="651" y="625" width="1" height="30"/>
<rect x="659" y="620" width="1" height="35"/>
<rect x="667" y="613" width="1" height="42"/>
<rect x="675" y="607" width="1" height="48"/>
<rect x="683" y="598" width="1" height="57"/>
<rect x="691" y="590" width="1" height="65"/>
<rect x="699" y="587" width="1" height="68"/>
<rect x="707" y="586" width="1" height="69"/>
<rect x="715" y="585" width="1" height="70"/>
<rect x="723" y="584" width="1" height="71"/>
<rect x="731" y="584" width="1" height="71"/>
<rect x="739" y="585" width="1" height="70"/>
<rect x="747" y="588" width="1" height="67"/>
<rect x="755" y="591" width="1" height="64"/>
<rect x="763" y="600" width="1" height="55"/>
<rect x="771" y="609" width="1" height="46"/>
<rect x="779" y="616" width="1" height="39"/>
<rect x="787" y="624" width="1" height="31"/>
<rect x="795" y="631" width="1" height="24"/>
<rect x="803" y="638" width="1" height="17"/>
<rect x="811" y="648" width="1" height="7"/>
<rect x="827" y="654" width="1" height="3"/>
<rect x="835" y="654" width="1" height="9"/>
<rect x="843" y="654" width="1" height="17"/>
<rect x="851" y="654" width="1" height="19"/>
<rect x="859" y="654" width="1" height="21"/>
<rect x="867" y="654" width="1" height="20"/>
<rect x="875" y="654" width="1" height="22"/>
<rect x="883" y="654" width="1" height="25"/>
<rect x="891" y="654" width="1" height="29"/>
<rect x="899" y="654" width="1" height="32"/>
<rect x="907" y="654" width="1" height="34"/>
<rect x="915" y="654" width="1" height="34"/>
<rect x="923" y="654" width="1" height="37"/>
<rect x="931" y="654" width="1" height="33"/>
<rect x="939" y="654" width="1" height="29"/>
<rect x="947" y="654" width="1" height="24"/>
<rect x="955" y="654" width="1" height="17"/>
<rect x="963" y="654" width="1" height="11"/>
<rect x="971" y="654" width="1" height="8"/>
<rect x="979" y="654" width="1" height="1"/>
<rect x="987" y="649" width="1" height="6"/>
<rect x="995" y="643" width="1" height="12"/>
<rect x="1003" y="640" width="1" height="15"/>
<rect x="1011" y="637" width="1" height="18"/>
<rect x="1019" y="639" width="1" height="16"/>
<rect x="1027" y="641" width="1" height="14"/>
<rect x="1035" y="649" width="1" height="6"/>
<rect x="1043" y="654" width="1" height="1"/>
<rect x="1051" y="654" width="1" height="4"/>
<rect x="1059" y="654" width="1" height="7"/>
<rect x="1067" y="654" width="1" height="13"/>
<rect x="1075" y="654" width="1" height="20"/>
<rect x="1083" y="654" width="1" height="24"/>
<rect x="1091" y="654" width="1" height="25"/>
<rect x="1099" y="654" width="1" height="27"/>
<rect x="1107" y="654" width="1" height="25"/>
<rect x="1115" y="654" width="1" height="34"/>
<rect x="1123" y="654" width="1" height="42"/>
<rect x="1131" y="654" width="1" height="50"/>
<rect x="1139" y="654" width="1" height="57"/>
<rect x="1147" y="654" width="1" height="65"/>
<rect x="1155" y="654" width="1" height="72"/>
<rect x="1163" y="654" width="1" height="72"/>
<rect x="1171" y="654" width="1" height="74"/>
<rect x="1179" y="654" width="1" height="74"/>
<rect x="1187" y="654" width="1" height="72"/>
<rect x="1195" y="654" width="1" height="70"/>
<rect x="1203" y="654" width="1" height="67"/>
<rect x="1211" y="654" width="1" height="69"/>
<rect x="1219" y="654" width="1" height="70"/>
<rect x="1227" y="654" width="1" height="65"/>
<rect x="1235" y="654" width="1" height="57"/>
<rect x="1243" y="654" width="1" height="49"/>
<rect x="1251" y="654" width="1" height="43"/>
<rect x="1259" y="654" width="1" height="35"/>
<rect x="1267" y="654" width="1" height="29"/>
<rect x="1275" y="654" width="1" height="23"/>
<rect x="1283" y="654" width="1" height="21"/>
<rect x="1291" y="654" width="1" height="16"/>
<rect x="1299" y="654" width="1" height="15"/>
<rect x="1307" y="654" width="1" height="18"/>
<rect x="1315" y="654" width="1" height="23"/>
<rect x="1323" y="654" width="1" height="25"/>
<rect x="1331" y="654" width="1" height="29"/>
<rect x="1339" y="654" width="1" height="35"/>
<rect x="1347" y="654" width="1" height="36"/>
<rect x="1355" y="654" width="1" height="41"/>
<rect x="1363" y="654" width="1" height="44"/>
<rect x="1371" y="654" width="1" height="51"/>
<rect x="1379" y="654" width="1" height="56"/>
<rect x="1387" y="654" width="1" height="59"/>
<rect x="1395" y="654" width="1" height="55"/>
<rect x="1403" y="654" width="1" height="52"/>
<rect x="1411" y="654" width="1" height="52"/>
<rect x="1419" y="654" width="1" height="51"/>
<rect x="1427" y="654" width="1" height="48"/>
</g>
<polyline points="0.5,666.4 15.5,667.9 33.0,673.4 44.3,678.4 60.5,689.6 67.5,694.7 75.5,700.0 83.5,704.0 91.5,707.0 99.5,708.9 107.5,709.4 115.5,708.9 123.5,706.7 131.5,703.3 139.5,700.1 147.5,696.6 155.5,693.7 163.5,691.7 171.5,689.4 179.5,686.9 187.5,683.6 195.5,679.8 203.5,675.9 211.5,671.6 219.5,667.2 227.5,662.6 235.5,657.4 243.5,652.5 251.5,648.4 259.5,644.8 267.5,641.9 275.5,639.7 283.5,638.6 291.5,637.7 299.5,636.8 307.5,637.0 315.5,638.1 323.5,639.9 331.5,642.3 339.5,645.9 347.5,650.1 355.5,655.3 363.5,661.6 371.5,668.7 379.5,675.2 387.5,683.0 395.5,691.5 403.5,700.2 411.5,708.2 419.5,715.0 427.5,719.5 435.5,722.5 443.5,725.1 451.5,727.4 459.5,727.9 467.5,726.8 475.5,724.4 483.5,721.4 491.5,718.1 499.5,714.9 507.5,711.8 515.5,709.0 523.5,706.6 531.5,704.3 539.5,702.6 547.5,701.5 555.5,700.6 563.5,699.5 571.5,697.7 579.5,695.7 587.5,692.2 595.5,687.0 603.5,680.7 611.5,674.0 619.5,666.9 627.5,659.7 635.5,653.1 643.5,646.7 651.5,640.9 659.5,635.5 667.5,630.9 675.5,626.7 683.5,622.0 691.5,616.6 699.5,611.1 707.5,605.9 715.5,601.2 723.5,596.6 731.5,592.6 739.5,589.5 747.5,587.4 755.5,586.7 763.5,587.8 771.5,590.2 779.5,593.6 787.5,597.9 795.5,603.2 803.5,609.2 811.5,616.2 819.5,623.5 827.5,630.7 835.5,637.6 843.5,644.3 851.5,650.5 859.5,656.0 867.5,660.6 875.5,664.7 883.5,668.0 891.5,671.0 899.5,674.2 907.5,677.0 915.5,678.9 923.5,680.9 931.5,682.3 939.5,683.3 947.5,683.6 955.5,682.7 963.5,680.7 971.5,678.1 979.5,674.5 987.5,670.3 995.5,665.1 1003.5,660.0 1011.5,655.0 1019.5,650.8 1027.5,647.7 1035.5,646.0 1043.5,645.3 1051.5,645.6 1059.5,646.7 1067.5,649.2 1075.5,652.9 1083.5,657.3 1091.5,661.6 1099.5,665.9 1107.5,669.2 1115.5,672.7 1123.5,677.0 1131.5,681.8 1139.5,686.6 1147.5,691.7 1155.5,697.1 1163.5,702.3 1171.5,707.6 1179.5,713.0 1187.5,717.2 1195.5,720.4 1203.5,722.3 1211.5,723.6 1219.5,724.1 1227.5,723.3 1235.5,721.6 1243.5,718.8 1251.5,715.5 1259.5,711.3 1267.5,706.7 1275.5,701.8 1283.5,696.6 1291.5,690.6 1299.5,684.9 1307.5,680.7 1315.5,677.7 1323.5,675.7 1331.5,675.1 1339.5,675.7 1347.5,677.2 1355.5,679.3 1363.5,682.4 1371.5,686.5 1379.5,690.6 1387.5,694.6 1395.5,697.9 1403.5,700.4 1411.5,702.3 1419.5,704.0 1427.5,704.8" fill="none" stroke="#ff0000" stroke-width="1" stroke-dasharray="3,3"/>
<line x1="1393" y1="709.5" x2="1433" y2="699.5" stroke="#ff0000" stroke-width="3.6"/>
<polygon points="1429,695 1442.2,696.3 1431.8,704" fill="#ff0000"/>
</g>
<g clip-path="url(#crsi)">
<line x1="0" y1="782.5" x2="1646" y2="782.5" stroke="#c0c0c0" stroke-width="1" stroke-dasharray="3,3"/>
<line x1="0" y1="833.5" x2="1646" y2="833.5" stroke="#c0c0c0" stroke-width="1" stroke-dasharray="3,3"/>
<line x1="0" y1="894.5" x2="1646" y2="894.5" stroke="#c0c0c0" stroke-width="1" stroke-dasharray="3,3"/>
<polyline points="0.0,846.5 3.5,849.1 11.5,859.1 19.5,850.4 27.5,853.4 35.5,864.2 43.5,867.2 51.5,877.2 59.5,872.9 67.5,851.6 75.5,855.9 83.5,841.6 91.5,838.4 99.5,838.4 107.5,836.6 115.5,846.1 123.5,843.4 131.5,842.4 139.5,847.9 147.5,844.1 155.5,841.6 163.5,850.9 171.5,829.1 179.5,824.6 187.5,824.1 195.5,822.8 203.5,822.1 211.5,827.1 219.5,828.4 227.5,824.6 235.5,821.1 243.5,815.8 251.5,816.1 259.5,821.6 267.5,818.3 275.5,834.1 283.5,842.1 291.5,825.4 299.5,824.6 307.5,841.1 315.5,836.6 323.5,837.9 331.5,847.4 339.5,852.1 347.5,857.9 355.5,867.9 363.5,862.9 371.5,859.1 379.5,854.6 387.5,872.2 395.5,867.4 403.5,868.4 411.5,860.4 419.5,852.1 427.5,849.6 435.5,850.9 443.5,857.4 451.5,854.1 459.5,856.1 467.5,843.4 475.5,845.4 483.5,848.4 491.5,841.1 499.5,844.6 507.5,840.1 515.5,854.9 523.5,855.4 531.5,850.4 539.5,851.6 547.5,854.6 555.5,853.4 563.5,831.1 571.5,827.1 579.5,829.6 587.5,821.1 595.5,808.3 603.5,810.8 611.5,820.3 619.5,825.4 627.5,822.8 635.5,818.6 643.5,813.6 651.5,818.3 659.5,810.3 667.5,804.8 675.5,802.8 683.5,796.6 691.5,795.3 699.5,799.6 707.5,804.1 715.5,802.1 723.5,801.1 731.5,800.3 739.5,800.8 747.5,807.3 755.5,807.3 763.5,832.1 771.5,832.4 779.5,834.6 787.5,839.9 795.5,841.1 803.5,844.9 811.5,856.1 819.5,852.1 827.5,841.6 835.5,853.6 843.5,859.1 851.5,848.6 859.5,847.1 867.5,839.6 875.5,847.9 883.5,851.6 891.5,856.1 899.5,856.1 907.5,856.1 915.5,853.4 923.5,862.9 931.5,836.6 939.5,839.1 947.5,828.6 955.5,825.4 963.5,824.6 971.5,827.4 979.5,822.8 987.5,813.3 995.5,813.3 1003.5,818.1 1011.5,815.3 1019.5,832.9 1027.5,831.6 1035.5,849.1 1043.5,843.6 1051.5,844.1 1059.5,845.4 1067.5,852.9 1075.5,857.4 1083.5,854.1 1091.5,850.4 1099.5,849.6 1107.5,847.1 1115.5,866.2 1123.5,869.9 1131.5,872.2 1139.5,875.9 1147.5,880.4 1155.5,881.2 1163.5,863.6 1171.5,867.9 1179.5,862.1 1187.5,860.4 1195.5,864.2 1203.5,854.1 1211.5,863.6 1219.5,866.7 1227.5,851.1 1235.5,836.1 1243.5,839.6 1251.5,836.6 1259.5,829.1 1267.5,831.1 1275.5,832.4 1283.5,838.3 1291.5,828.0 1299.5,835.0 1307.5,847.8 1315.5,849.8 1323.5,846.0 1331.5,854.7 1339.5,858.8 1347.5,848.3 1355.5,856.7 1363.5,858.0 1371.5,863.9 1379.5,866.2 1387.5,861.9 1395.5,860.1 1403.5,853.7 1411.5,851.0 1419.5,848.0 1427.5,844.4" fill="none" stroke="#1e90ff" stroke-width="1" />
<line x1="1369" y1="861.8" x2="1426" y2="846.2" stroke="#ff0000" stroke-width="3.6"/>
<polygon points="1423.2,842 1436.2,843.6 1426.6,851" fill="#ff0000"/>
</g>
<rect x="1647" y="41" width="2" height="1" fill="#000"/>
<text x="1652" y="45" font-family="Liberation Sans, Arial, sans-serif" font-size="9.8" fill="#000" textLength="33.19" lengthAdjust="spacingAndGlyphs" shape-rendering="auto" >26507.0</text>
<rect x="1647" y="74" width="2" height="1" fill="#000"/>
<text x="1652" y="78" font-family="Liberation Sans, Arial, sans-serif" font-size="9.8" fill="#000" textLength="33.19" lengthAdjust="spacingAndGlyphs" shape-rendering="auto" >26262.0</text>
<rect x="1647" y="107" width="2" height="1" fill="#000"/>
<text x="1652" y="111" font-family="Liberation Sans, Arial, sans-serif" font-size="9.8" fill="#000" textLength="33.19" lengthAdjust="spacingAndGlyphs" shape-rendering="auto" >26017.0</text>
<rect x="1647" y="140" width="2" height="1" fill="#000"/>
<text x="1652" y="144" font-family="Liberation Sans, Arial, sans-serif" font-size="9.8" fill="#000" textLength="33.19" lengthAdjust="spacingAndGlyphs" shape-rendering="auto" >25772.0</text>
<rect x="1647" y="173" width="2" height="1" fill="#000"/>
<text x="1652" y="177" font-family="Liberation Sans, Arial, sans-serif" font-size="9.8" fill="#000" textLength="33.19" lengthAdjust="spacingAndGlyphs" shape-rendering="auto" >25527.0</text>
<rect x="1647" y="206" width="2" height="1" fill="#000"/>
<text x="1652" y="210" font-family="Liberation Sans, Arial, sans-serif" font-size="9.8" fill="#000" textLength="33.19" lengthAdjust="spacingAndGlyphs" shape-rendering="auto" >25282.0</text>
<rect x="1647" y="239" width="2" height="1" fill="#000"/>
<text x="1652" y="243" font-family="Liberation Sans, Arial, sans-serif" font-size="9.8" fill="#000" textLength="33.19" lengthAdjust="spacingAndGlyphs" shape-rendering="auto" >25037.0</text>
<rect x="1647" y="272" width="2" height="1" fill="#000"/>
<text x="1652" y="276" font-family="Liberation Sans, Arial, sans-serif" font-size="9.8" fill="#000" textLength="33.19" lengthAdjust="spacingAndGlyphs" shape-rendering="auto" >24792.0</text>
<rect x="1647" y="305" width="2" height="1" fill="#000"/>
<text x="1652" y="309" font-family="Liberation Sans, Arial, sans-serif" font-size="9.8" fill="#000" textLength="33.19" lengthAdjust="spacingAndGlyphs" shape-rendering="auto" >24547.0</text>
<rect x="1647" y="338" width="2" height="1" fill="#000"/>
<text x="1652" y="342" font-family="Liberation Sans, Arial, sans-serif" font-size="9.8" fill="#000" textLength="33.19" lengthAdjust="spacingAndGlyphs" shape-rendering="auto" >24302.0</text>
<rect x="1647" y="371" width="2" height="1" fill="#000"/>
<text x="1652" y="375" font-family="Liberation Sans, Arial, sans-serif" font-size="9.8" fill="#000" textLength="33.19" lengthAdjust="spacingAndGlyphs" shape-rendering="auto" >24057.0</text>
<rect x="1647" y="404" width="2" height="1" fill="#000"/>
<text x="1652" y="408" font-family="Liberation Sans, Arial, sans-serif" font-size="9.8" fill="#000" textLength="33.19" lengthAdjust="spacingAndGlyphs" shape-rendering="auto" >23812.0</text>
<rect x="1647" y="437" width="2" height="1" fill="#000"/>
<text x="1652" y="441" font-family="Liberation Sans, Arial, sans-serif" font-size="9.8" fill="#000" textLength="33.19" lengthAdjust="spacingAndGlyphs" shape-rendering="auto" >23567.0</text>
<rect x="1647" y="470" width="2" height="1" fill="#000"/>
<text x="1652" y="474" font-family="Liberation Sans, Arial, sans-serif" font-size="9.8" fill="#000" textLength="33.19" lengthAdjust="spacingAndGlyphs" shape-rendering="auto" >23322.0</text>
<rect x="1647" y="503" width="2" height="1" fill="#000"/>
<text x="1652" y="507" font-family="Liberation Sans, Arial, sans-serif" font-size="9.8" fill="#000" textLength="33.19" lengthAdjust="spacingAndGlyphs" shape-rendering="auto" >23077.0</text>
<rect x="1647" y="536" width="2" height="1" fill="#000"/>
<text x="1652" y="540" font-family="Liberation Sans, Arial, sans-serif" font-size="9.8" fill="#000" textLength="33.19" lengthAdjust="spacingAndGlyphs" shape-rendering="auto" >22832.0</text>
<rect x="1647" y="569" width="2" height="1" fill="#000"/>
<text x="1652" y="573" font-family="Liberation Sans, Arial, sans-serif" font-size="9.8" fill="#000" textLength="33.19" lengthAdjust="spacingAndGlyphs" shape-rendering="auto" >22587.0</text>
<rect x="1648" y="429" width="41" height="11" fill="#ff0000"/>
<text x="1652" y="438" font-family="Liberation Sans, Arial, sans-serif" font-size="9.8" fill="#fff" textLength="33.19" lengthAdjust="spacingAndGlyphs" shape-rendering="auto" >23578.3</text>
<rect x="1648" y="455" width="41" height="11" fill="#ff0000"/>
<text x="1652" y="464" font-family="Liberation Sans, Arial, sans-serif" font-size="9.8" fill="#fff" textLength="33.19" lengthAdjust="spacingAndGlyphs" shape-rendering="auto" >23389.2</text>
<rect x="1648" y="481" width="41" height="11" fill="#000000"/>
<text x="1652" y="490" font-family="Liberation Sans, Arial, sans-serif" font-size="9.8" fill="#fff" textLength="33.19" lengthAdjust="spacingAndGlyphs" shape-rendering="auto" >23204.0</text>
<rect x="1648" y="490" width="41" height="11" fill="#32cd32"/>
<text x="1652" y="499" font-family="Liberation Sans, Arial, sans-serif" font-size="9.8" fill="#fff" textLength="33.19" lengthAdjust="spacingAndGlyphs" shape-rendering="auto" >23129.7</text>
<rect x="1648" y="514" width="41" height="11" fill="#0000ff"/>
<text x="1652" y="523" font-family="Liberation Sans, Arial, sans-serif" font-size="9.8" fill="#fff" textLength="33.19" lengthAdjust="spacingAndGlyphs" shape-rendering="auto" >22951.7</text>
<rect x="1648" y="534" width="41" height="11" fill="#0000ff"/>
<text x="1652" y="543" font-family="Liberation Sans, Arial, sans-serif" font-size="9.8" fill="#fff" textLength="33.19" lengthAdjust="spacingAndGlyphs" shape-rendering="auto" >22803.3</text>
<rect x="1647" y="576" width="2" height="1"/>
<text x="1650" y="585" font-family="Liberation Sans, Arial, sans-serif" font-size="9.8" fill="#000" textLength="28.19" lengthAdjust="spacingAndGlyphs" shape-rendering="auto" >433.23</text>
<rect x="1647" y="654" width="2" height="1"/>
<text x="1650" y="658" font-family="Liberation Sans, Arial, sans-serif" font-size="9.8" fill="#000" textLength="18.19" lengthAdjust="spacingAndGlyphs" shape-rendering="auto" >0.00</text>
<rect x="1647" y="743" width="2" height="1"/>
<text x="1650" y="741" font-family="Liberation Sans, Arial, sans-serif" font-size="9.8" fill="#000" textLength="31.59" lengthAdjust="spacingAndGlyphs" shape-rendering="auto" >-491.94</text>
<rect x="1647" y="748" width="2" height="1"/>
<text x="1650.2" y="757" font-family="Liberation Sans, Arial, sans-serif" font-size="9.8" fill="#000" textLength="14.89" lengthAdjust="spacingAndGlyphs" shape-rendering="auto" >100</text>
<text x="1648.7" y="786" font-family="Liberation Sans, Arial, sans-serif" font-size="9.8" fill="#000" textLength="10.79" lengthAdjust="spacingAndGlyphs" shape-rendering="auto" >80</text>
<text x="1649.1" y="837" font-family="Liberation Sans, Arial, sans-serif" font-size="9.8" fill="#000" textLength="10.39" lengthAdjust="spacingAndGlyphs" shape-rendering="auto" >50</text>
<text x="1649.6" y="898" font-family="Liberation Sans, Arial, sans-serif" font-size="9.8" fill="#000" textLength="9.79" lengthAdjust="spacingAndGlyphs" shape-rendering="auto" >15</text>
<text x="1650.1" y="917" font-family="Liberation Sans, Arial, sans-serif" font-size="9.8" fill="#000" textLength="4.99" lengthAdjust="spacingAndGlyphs" shape-rendering="auto" >0</text>
<rect x="1647" y="919" width="2" height="1"/>
<text x="0" y="933" font-family="Liberation Sans, Arial, sans-serif" font-size="9.8" fill="#000" textLength="40.59" lengthAdjust="spacingAndGlyphs" shape-rendering="auto" >Aug 2021</text>
<rect x="51" y="921" width="1" height="3"/>
<text x="50" y="933" font-family="Liberation Sans, Arial, sans-serif" font-size="9.8" fill="#000" textLength="55.99" lengthAdjust="spacingAndGlyphs" shape-rendering="auto" >20 Aug 01:15</text>
<rect x="115" y="921" width="1" height="3"/>
<text x="114" y="933" font-family="Liberation Sans, Arial, sans-serif" font-size="9.8" fill="#000" textLength="55.99" lengthAdjust="spacingAndGlyphs" shape-rendering="auto" >26 Aug 01:15</text>
<rect x="179" y="921" width="1" height="3"/>
<text x="178" y="933" font-family="Liberation Sans, Arial, sans-serif" font-size="9.8" fill="#000" textLength="51.28" lengthAdjust="spacingAndGlyphs" shape-rendering="auto" >1 Sep 01:15</text>
<rect x="243" y="921" width="1" height="3"/>
<text x="242" y="933" font-family="Liberation Sans, Arial, sans-serif" font-size="9.8" fill="#000" textLength="51.28" lengthAdjust="spacingAndGlyphs" shape-rendering="auto" >7 Sep 01:15</text>
<rect x="307" y="921" width="1" height="3"/>
<text x="306" y="933" font-family="Liberation Sans, Arial, sans-serif" font-size="9.8" fill="#000" textLength="56.51" lengthAdjust="spacingAndGlyphs" shape-rendering="auto" >13 Sep 01:15</text>
<rect x="371" y="921" width="1" height="3"/>
<text x="370" y="933" font-family="Liberation Sans, Arial, sans-serif" font-size="9.8" fill="#000" textLength="56.51" lengthAdjust="spacingAndGlyphs" shape-rendering="auto" >17 Sep 01:15</text>
<rect x="435" y="921" width="1" height="3"/>
<text x="434" y="933" font-family="Liberation Sans, Arial, sans-serif" font-size="9.8" fill="#000" textLength="56.51" lengthAdjust="spacingAndGlyphs" shape-rendering="auto" >24 Sep 01:15</text>
<rect x="499" y="921" width="1" height="3"/>
<text x="498" y="933" font-family="Liberation Sans, Arial, sans-serif" font-size="9.8" fill="#000" textLength="56.51" lengthAdjust="spacingAndGlyphs" shape-rendering="auto" >30 Sep 01:15</text>
<rect x="563" y="921" width="1" height="3"/>
<text x="562" y="933" font-family="Liberation Sans, Arial, sans-serif" font-size="9.8" fill="#000" textLength="49.18" lengthAdjust="spacingAndGlyphs" shape-rendering="auto" >7 Oct 01:15</text>
<rect x="627" y="921" width="1" height="3"/>
<text x="626" y="933" font-family="Liberation Sans, Arial, sans-serif" font-size="9.8" fill="#000" textLength="54.41" lengthAdjust="spacingAndGlyphs" shape-rendering="auto" >13 Oct 01:15</text>
<rect x="691" y="921" width="1" height="3"/>
<text x="690" y="933" font-family="Liberation Sans, Arial, sans-serif" font-size="9.8" fill="#000" textLength="54.41" lengthAdjust="spacingAndGlyphs" shape-rendering="auto" >20 Oct 05:00</text>
<rect x="755" y="921" width="1" height="3"/>
<text x="754" y="933" font-family="Liberation Sans, Arial, sans-serif" font-size="9.8" fill="#000" textLength="54.41" lengthAdjust="spacingAndGlyphs" shape-rendering="auto" >26 Oct 05:00</text>
<rect x="819" y="921" width="1" height="3"/>
<text x="818" y="933" font-family="Liberation Sans, Arial, sans-serif" font-size="9.8" fill="#000" textLength="51.27" lengthAdjust="spacingAndGlyphs" shape-rendering="auto" >1 Nov 05:00</text>
<rect x="883" y="921" width="1" height="3"/>
<text x="882" y="933" font-family="Liberation Sans, Arial, sans-serif" font-size="9.8" fill="#000" textLength="51.27" lengthAdjust="spacingAndGlyphs" shape-rendering="auto" >5 Nov 05:00</text>
<rect x="947" y="921" width="1" height="3"/>
<text x="946" y="933" font-family="Liberation Sans, Arial, sans-serif" font-size="9.8" fill="#000" textLength="55.80" lengthAdjust="spacingAndGlyphs" shape-rendering="auto" >11 Nov 05:00</text>
<rect x="1011" y="921" width="1" height="3"/>
<text x="1010" y="933" font-family="Liberation Sans, Arial, sans-serif" font-size="9.8" fill="#000" textLength="56.50" lengthAdjust="spacingAndGlyphs" shape-rendering="auto" >17 Nov 05:00</text>
<rect x="1075" y="921" width="1" height="3"/>
<text x="1074" y="933" font-family="Liberation Sans, Arial, sans-serif" font-size="9.8" fill="#000" textLength="56.50" lengthAdjust="spacingAndGlyphs" shape-rendering="auto" >23 Nov 05:00</text>
<rect x="1139" y="921" width="1" height="3"/>
<text x="1138" y="933" font-family="Liberation Sans, Arial, sans-serif" font-size="9.8" fill="#000" textLength="56.50" lengthAdjust="spacingAndGlyphs" shape-rendering="auto" >29 Nov 05:00</text>
<rect x="1203" y="921" width="1" height="3"/>
<text x="1202" y="933" font-family="Liberation Sans, Arial, sans-serif" font-size="9.8" fill="#000" textLength="51.27" lengthAdjust="spacingAndGlyphs" shape-rendering="auto" >3 Dec 05:00</text>
<rect x="1267" y="921" width="1" height="3"/>
<text x="1266" y="933" font-family="Liberation Sans, Arial, sans-serif" font-size="9.8" fill="#000" textLength="51.27" lengthAdjust="spacingAndGlyphs" shape-rendering="auto" >9 Dec 05:00</text>
<rect x="1331" y="921" width="1" height="3"/>
<text x="1330" y="933" font-family="Liberation Sans, Arial, sans-serif" font-size="9.8" fill="#000" textLength="56.50" lengthAdjust="spacingAndGlyphs" shape-rendering="auto" >15 Dec 05:00</text>
<rect x="1395" y="921" width="1" height="3"/>
<text x="1394" y="933" font-family="Liberation Sans, Arial, sans-serif" font-size="9.8" fill="#000" textLength="56.50" lengthAdjust="spacingAndGlyphs" shape-rendering="auto" >21 Dec 05:00</text>
<text x="2.4" y="31" font-family="Liberation Sans, Arial, sans-serif" font-size="9.8" fill="#000" textLength="40.69" lengthAdjust="spacingAndGlyphs" shape-rendering="auto" >HK50-,H4</text>
<text x="49.3" y="31" font-family="Liberation Sans, Arial, sans-serif" font-size="9.8" fill="#000" textLength="33.09" lengthAdjust="spacingAndGlyphs" shape-rendering="auto" >23140.5</text>
<text x="85.0" y="31" font-family="Liberation Sans, Arial, sans-serif" font-size="9.8" fill="#000" textLength="33.09" lengthAdjust="spacingAndGlyphs" shape-rendering="auto" >23229.0</text>
<text x="120.7" y="31" font-family="Liberation Sans, Arial, sans-serif" font-size="9.8" fill="#000" textLength="33.09" lengthAdjust="spacingAndGlyphs" shape-rendering="auto" >23117.5</text>
<text x="156.4" y="31" font-family="Liberation Sans, Arial, sans-serif" font-size="9.8" fill="#000" textLength="33.09" lengthAdjust="spacingAndGlyphs" shape-rendering="auto" >23204.0</text>
<text x="-7" y="587" font-family="Liberation Sans, Arial, sans-serif" font-size="9.8" fill="#000" textLength="131.89" lengthAdjust="spacingAndGlyphs" shape-rendering="auto" >MACD(12,26,9) -249.24 -286.21</text>
<text x="-8.5" y="759" font-family="Liberation Sans, Arial, sans-serif" font-size="9.8" fill="#000" textLength="67.39" lengthAdjust="spacingAndGlyphs" shape-rendering="auto" >RSI(14) 43.5821</text>
<polygon points="1424.5,20 1434.5,20 1429.5,25.5" fill="#c4c4c4" shape-rendering="auto"/>
<rect x="1692" y="17" width="1" height="922" fill="#e0e0e0"/>
<rect x="1693" y="17" width="1" height="922" fill="#fafafa"/>
</svg>
<div style="position:absolute;left:0;top:0;width:1694px;height:15px;background:#f0f0f0;overflow:hidden">
<svg width="1694" height="15" style="position:absolute;left:0;top:0">
<rect x="283" y="0" width="23" height="13" fill="#e6e6e6"/>
<rect x="435" y="0" width="23" height="13" fill="#e6e6e6"/>
<rect x="463" y="0" width="23" height="13" fill="#e6e6e6"/>
<rect x="623" y="0" width="23" height="13" fill="#e6e6e6"/>
<rect x="1068" y="0" width="24" height="13" fill="#e6e6e6"/>
<rect x="7" y="0" width="1" height="13" fill="#a0a0a0"/><rect x="8" y="0" width="1" height="13" fill="#fcfcfc"/>
<rect x="243" y="0" width="1" height="13" fill="#a0a0a0"/><rect x="244" y="0" width="1" height="13" fill="#fcfcfc"/>
<rect x="281" y="0" width="1" height="13" fill="#a0a0a0"/><rect x="282" y="0" width="1" height="13" fill="#fcfcfc"/>
<rect x="338" y="0" width="1" height="13" fill="#a0a0a0"/><rect x="339" y="0" width="1" height="13" fill="#fcfcfc"/>
<rect x="428" y="0" width="1" height="13" fill="#a0a0a0"/><rect x="429" y="0" width="1" height="13" fill="#fcfcfc"/>
<rect x="433" y="0" width="1" height="13" fill="#a0a0a0"/><rect x="434" y="0" width="1" height="13" fill="#fcfcfc"/>
<rect x="461" y="0" width="1" height="13" fill="#a0a0a0"/><rect x="462" y="0" width="1" height="13" fill="#fcfcfc"/>
<rect x="490" y="0" width="1" height="13" fill="#a0a0a0"/><rect x="491" y="0" width="1" height="13" fill="#fcfcfc"/>
<rect x="611" y="0" width="1" height="13" fill="#a0a0a0"/><rect x="612" y="0" width="1" height="13" fill="#fcfcfc"/>
<rect x="621" y="0" width="1" height="13" fill="#a0a0a0"/><rect x="622" y="0" width="1" height="13" fill="#fcfcfc"/>
<rect x="678" y="0" width="1" height="13" fill="#a0a0a0"/><rect x="679" y="0" width="1" height="13" fill="#fcfcfc"/>
<rect x="917" y="0" width="1" height="13" fill="#a0a0a0"/><rect x="918" y="0" width="1" height="13" fill="#fcfcfc"/>
<rect x="1067" y="0" width="1" height="13" fill="#a0a0a0"/><rect x="1068" y="0" width="1" height="13" fill="#fcfcfc"/>
<rect x="1178" y="0" width="1" height="13" fill="#a0a0a0"/><rect x="1179" y="0" width="1" height="13" fill="#fcfcfc"/>
<rect x="248" y="1" width="3" height="1" fill="#a8a8a8"/>
<rect x="248" y="3" width="3" height="1" fill="#a8a8a8"/>
<rect x="248" y="5" width="3" height="1" fill="#a8a8a8"/>
<rect x="248" y="7" width="3" height="1" fill="#a8a8a8"/>
<rect x="248" y="9" width="3" height="1" fill="#a8a8a8"/>
<rect x="248" y="11" width="3" height="1" fill="#a8a8a8"/>
<rect x="616" y="1" width="3" height="1" fill="#a8a8a8"/>
<rect x="616" y="3" width="3" height="1" fill="#a8a8a8"/>
<rect x="616" y="5" width="3" height="1" fill="#a8a8a8"/>
<rect x="616" y="7" width="3" height="1" fill="#a8a8a8"/>
<rect x="616" y="9" width="3" height="1" fill="#a8a8a8"/>
<rect x="616" y="11" width="3" height="1" fill="#a8a8a8"/>
<rect x="922" y="1" width="3" height="1" fill="#a8a8a8"/>
<rect x="922" y="3" width="3" height="1" fill="#a8a8a8"/>
<rect x="922" y="5" width="3" height="1" fill="#a8a8a8"/>
<rect x="922" y="7" width="3" height="1" fill="#a8a8a8"/>
<rect x="922" y="9" width="3" height="1" fill="#a8a8a8"/>
<rect x="922" y="11" width="3" height="1" fill="#a8a8a8"/>
<rect x="17.5" y="-4.5" width="11" height="12" fill="#fff" stroke="#606060"/>
<rect x="19" y="0" width="6" height="1" fill="#808080"/><rect x="19" y="3" width="6" height="1" fill="#808080"/>
<path d="M24.5 2.5h4v-4h4v4h4v4h-4v5h-4v-5h-4z" fill="#18b818" stroke="#0a7a0a" stroke-width="0.8" transform="translate(-3,1)"/>
<path d="M84 5 L91 -1 L100 3 L100 6 L93 11 L84 7 Z" fill="#e8b830" stroke="#a87818" stroke-width="0.8"/>
<path d="M84 5 L93 9 L100 3" fill="none" stroke="#fff2a0" stroke-width="0.8"/>
<defs><linearGradient id="cg" x1="0" y1="0" x2="0" y2="1"><stop offset="0" stop-color="#ffffff"/><stop offset="1" stop-color="#b8c8e0"/></linearGradient><linearGradient id="sg" x1="0" y1="0" x2="1" y2="0"><stop offset="0" stop-color="#3a70c8"/><stop offset="0.45" stop-color="#a8c0e0"/><stop offset="0.55" stop-color="#a0d0a0"/><stop offset="1" stop-color="#3a9a3a"/></linearGradient></defs>
<rect x="114" y="-2" width="11" height="6.5" fill="#1a8ae8"/><rect x="117.5" y="-1" width="3" height="3" fill="#d8ecff"/>
<path d="M114 10.5 C111.2 10.5 111.2 6 115 6 C115.5 3 120 1.8 122 4 C124 2.8 127.8 4 127 7 C129 7.5 128.5 10.5 126 10.5 Z" fill="url(#cg)" stroke="#4a6090" stroke-width="1"/>
<circle cx="148" cy="3" r="7.5" fill="none" stroke="url(#sg)" stroke-width="1.2"/>
<circle cx="148" cy="3" r="5" fill="none" stroke="url(#sg)" stroke-width="1.2"/>
<circle cx="148" cy="3" r="2.6" fill="none" stroke="url(#sg)" stroke-width="1.2"/>
<circle cx="147.8" cy="2.6" r="1.8" fill="#2860c8"/><rect x="148" y="3" width="1.4" height="8" fill="#18a018"/>
<path d="M167 3 L182 3 L180 10 L173 11 Z" fill="#f4d848" stroke="#c8a428" stroke-width="0.8"/>
<ellipse cx="175" cy="1" rx="7" ry="3" fill="#58a0dc"/>
<circle cx="180" cy="7" r="4" fill="#e02010"/><rect x="178.5" y="5.5" width="3" height="3" fill="#fff"/>
<rect x="263" y="-1" width="1" height="12" fill="#404040"/><rect x="259" y="8" width="14" height="1" fill="#404040"/>
<path d="M270 6.5 L273 8.5 L270 10.5" fill="none" stroke="#404040" stroke-width="0.8"/>
<rect x="289" y="-1" width="1" height="12" fill="#404040"/><rect x="287" y="8" width="14" height="1" fill="#404040"/>
<path d="M298 6.5 L301 8.5 L298 10.5" fill="none" stroke="#404040" stroke-width="0.8"/>
<rect x="317" y="-1" width="1" height="12" fill="#404040"/><rect x="315" y="8" width="14" height="1" fill="#404040"/>
<path d="M326 6.5 L329 8.5 L326 10.5" fill="none" stroke="#404040" stroke-width="0.8"/>
<rect x="441" y="-1" width="1" height="12" fill="#404040"/><rect x="439" y="8" width="14" height="1" fill="#404040"/>
<path d="M450 6.5 L453 8.5 L450 10.5" fill="none" stroke="#404040" stroke-width="0.8"/>
<rect x="469" y="-1" width="1" height="12" fill="#404040"/><rect x="467" y="8" width="14" height="1" fill="#404040"/>
<path d="M478 6.5 L481 8.5 L478 10.5" fill="none" stroke="#404040" stroke-width="0.8"/>
<rect x="267" y="-1" width="1" height="7" fill="#10a010"/><rect x="265" y="5" width="2" height="1" fill="#10a010"/>
<rect x="293" y="-1" width="4" height="5" fill="#20c020" stroke="#108010" stroke-width="0.6"/><rect x="294.5" y="4" width="1" height="2" fill="#108010"/>
<path d="M316.5 6 L322 0.5 L328 4.5" fill="none" stroke="#20a020" stroke-width="1"/>
<path d="M446 0 L450 2.5 L446 5 Z" fill="#20b020"/>
<rect x="475" y="-1" width="1" height="8" fill="#2060c0"/><path d="M477 2 L481 -1 L481 5 Z" fill="#e04010"/>
<circle cx="353" cy="1" r="5" fill="#d4e8fa" stroke="#2a6cc8" stroke-width="1.4"/>
<rect x="350" y="0" width="6" height="2" fill="#2a6cc8"/>
<rect x="352" y="-2" width="2" height="6" fill="#2a6cc8"/>
<path d="M356.5 5 L361.5 10" stroke="#c8a020" stroke-width="2.6"/>
<circle cx="381" cy="1" r="5" fill="#d4e8fa" stroke="#2a6cc8" stroke-width="1.4"/>
<rect x="378" y="0" width="6" height="2" fill="#2a6cc8"/>
<path d="M384.5 5 L389.5 10" stroke="#c8a020" stroke-width="2.6"/>
<rect x="403.5" y="-1.5" width="7" height="5" fill="#fff" stroke="#3070d0"/><rect x="411.5" y="-1.5" width="7" height="5" fill="#fff" stroke="#3070d0"/>
<rect x="403.5" y="4.5" width="7" height="6" fill="#2a64d0" stroke="#2050b0"/><rect x="411.5" y="4.5" width="7" height="6" fill="#3ea03e" stroke="#2a802a"/>
<rect x="405" y="7" width="4" height="1" fill="#fff"/><rect x="413" y="7" width="4" height="1" fill="#fff"/>
<rect x="500.5" y="-3.5" width="9" height="10" fill="#fff" stroke="#606060"/>
<path d="M504.5 3.5h4v-4h4v4h4v4h-4v5h-4v-5h-4z" fill="#18b818" stroke="#0a7a0a" stroke-width="0.8"/>
<path d="M521 2 L527 2 L524 5 Z" fill="#000"/>
<path d="M560 2 L566 2 L563 5 Z" fill="#000"/>
<path d="M598 2 L604 2 L601 5 Z" fill="#000"/>
<path d="M906 2 L912 2 L909 5 Z" fill="#000"/>
<circle cx="546" cy="2" r="7" fill="#eef4ff" stroke="#1e5cc0" stroke-width="2"/>
<path d="M546 -2 L546 2 L549 2" stroke="#303030" fill="none"/>
<rect x="577.5" y="-1.5" width="15" height="11" fill="#fff" stroke="#3070c0"/>
<path d="M579 3 L583 1 L586 2 L590 0" stroke="#c03010" fill="none"/><path d="M579 7 L583 5 L586 6 L590 4" stroke="#20a020" fill="none"/>
<path d="M629 -2 L629 8 L631.5 6 L634 10 L636 9 L633.5 5 L637 5 Z" fill="#303030"/>
<rect x="654" y="3" width="15" height="1" fill="#404040"/><rect x="661" y="-3" width="1" height="14" fill="#404040"/>
<rect x="695" y="-1" width="1" height="11" fill="#404040"/>
<rect x="718" y="3" width="12" height="1" fill="#404040"/>
<path d="M746 10 L757 -1" stroke="#404040" stroke-width="1"/>
<path d="M772 8 L782 -2 M775 9 L785 -1 M773 4 L779 -2" stroke="#404040" stroke-width="1.2"/>
<text x="783" y="12" font-family="Liberation Sans, sans-serif" font-size="6.5" font-weight="bold" fill="#404040">E</text>
<path d="M801 3.5 H814 M801 7.5 H812" stroke="#505050" stroke-dasharray="1,1"/>
<text x="811" y="12" font-family="Liberation Sans, sans-serif" font-size="6.5" font-weight="bold" fill="#404040">F</text>
<text x="831.5" y="8" font-family="Liberation Sans, sans-serif" font-size="11" font-weight="bold" fill="#505050">A</text>
<rect x="858.5" y="-1.5" width="11" height="11" fill="none" stroke="#606060" stroke-dasharray="1,1"/>
<text x="860" y="7" font-family="Liberation Sans, sans-serif" font-size="10" font-weight="bold" fill="#404040">T</text>
<path d="M886 0 L890 4 L894 0" stroke="#404040" fill="none" stroke-width="1.5"/><path d="M893 5 L896 8 L899 5 L896 3Z" fill="#404040"/>
<text x="932.7" y="7" font-family="Liberation Sans, Arial, sans-serif" font-size="11" fill="#383838" textLength="12.96" lengthAdjust="spacingAndGlyphs" shape-rendering="auto" >M1</text>
<text x="961" y="7" font-family="Liberation Sans, Arial, sans-serif" font-size="11" fill="#383838" textLength="12.96" lengthAdjust="spacingAndGlyphs" shape-rendering="auto" >M5</text>
<text x="986.4" y="7" font-family="Liberation Sans, Arial, sans-serif" font-size="11" fill="#383838" textLength="18.26" lengthAdjust="spacingAndGlyphs" shape-rendering="auto" >M15</text>
<text x="1014.8" y="7" font-family="Liberation Sans, Arial, sans-serif" font-size="11" fill="#383838" textLength="17.96" lengthAdjust="spacingAndGlyphs" shape-rendering="auto" >M30</text>
<text x="1045.5" y="7" font-family="Liberation Sans, Arial, sans-serif" font-size="11" fill="#383838" textLength="12.16" lengthAdjust="spacingAndGlyphs" shape-rendering="auto" >H1</text>
<text x="1072.3" y="7" font-family="Liberation Sans, Arial, sans-serif" font-size="11" fill="#383838" textLength="12.96" lengthAdjust="spacingAndGlyphs" shape-rendering="auto" >H4</text>
<text x="1101.5" y="7" font-family="Liberation Sans, Arial, sans-serif" font-size="11" fill="#383838" textLength="12.16" lengthAdjust="spacingAndGlyphs" shape-rendering="auto" >D1</text>
<text x="1129" y="7" font-family="Liberation Sans, Arial, sans-serif" font-size="11" fill="#383838" textLength="14.66" lengthAdjust="spacingAndGlyphs" shape-rendering="auto" >W1</text>
<text x="1155" y="7" font-family="Liberation Sans, Arial, sans-serif" font-size="11" fill="#383838" textLength="15.46" lengthAdjust="spacingAndGlyphs" shape-rendering="auto" >MN</text>
<circle cx="1649" cy="0" r="4.5" fill="none" stroke="#2060d0" stroke-width="1.5"/><path d="M1646 3 L1641 8" stroke="#2060d0" stroke-width="2.5"/>
<ellipse cx="1671" cy="5" rx="6" ry="5" fill="#e8e8f0" stroke="#909090"/><path d="M1668 9 L1668 12 L1671 9Z" fill="#909090"/>
<circle cx="1679.5" cy="2.5" r="8" fill="#e03418"/>
<rect x="1679" y="-2" width="1.5" height="6" fill="#fff"/><rect x="1677" y="3.5" width="5" height="1" fill="#fff"/>
</svg>
<div style="position:absolute;left:36px;top:-6px;font:12px 'Liberation Sans','Noto Sans CJK SC',sans-serif;color:#000;white-space:nowrap;line-height:14px">新订单</div>
<div style="position:absolute;left:188px;top:-6px;font:12px 'Liberation Sans','Noto Sans CJK SC',sans-serif;color:#000;white-space:nowrap;line-height:14px">自动交易</div>
</div>
<div style="position:absolute;left:0;top:15px;width:1692px;height:1px;background:#a8a8a8"></div>
<div style="position:absolute;left:0;top:16px;width:1692px;height:1px;background:#6e6e6e"></div>
<div style="position:absolute;left:0;top:39px;width:42px;height:24px;background:linear-gradient(#f65656,#dc3232);border-top:1px solid #b80000;box-sizing:border-box"></div>
<div style="position:absolute;left:157px;top:39px;width:52px;height:24px;background:linear-gradient(#f65656,#dc3232);border:1px solid #b80000;border-bottom:none;box-sizing:border-box"></div>
<div style="position:absolute;left:0;top:63px;width:99px;height:33px;background:linear-gradient(#d82c2c,#b10404)"></div>
<div style="position:absolute;left:101px;top:63px;width:108px;height:33px;background:linear-gradient(#d82c2c,#b10404)"></div>
<div style="position:absolute;left:0;top:62px;width:38px;height:1px;background:#8a0000"></div>
<div style="position:absolute;left:161px;top:62px;width:44px;height:1px;background:#8a0000"></div>
<div style="position:absolute;left:0;top:63px;width:38px;height:1px;background:#f08080"></div>
<div style="position:absolute;left:161px;top:63px;width:44px;height:1px;background:#f08080"></div>
<div style="position:absolute;left:41px;top:39px;width:1px;height:25px;background:#b40000"></div>
<div style="position:absolute;left:41px;top:63px;width:58px;height:1px;background:#b40000"></div>
<div style="position:absolute;left:101px;top:63px;width:57px;height:1px;background:#b40000"></div>
<div style="position:absolute;left:101px;top:63px;width:1px;height:33px;background:#b40000"></div>
<div style="position:absolute;left:208px;top:39px;width:1px;height:57px;background:#b40000"></div>
<svg style="position:absolute;left:0;top:0" width="120" height="80"><g fill="#28d8d8"><rect x="104" y="65" width="1" height="1"/><rect x="103" y="66" width="1" height="1"/><rect x="105" y="66" width="1" height="1"/><rect x="104" y="67" width="1" height="1"/></g></svg>
<div style="position:absolute;left:44px;top:39px;width:111px;height:22px;border:1px solid #a4a6ad;box-sizing:border-box;background:#fff"></div>
<div style="position:absolute;left:45px;top:40px;width:20px;height:20px;background:linear-gradient(#f2f2f2,#d4d4d4);border-right:1px solid #a4a6ad"></div>
<div style="position:absolute;left:134px;top:40px;width:20px;height:20px;background:linear-gradient(#f2f2f2,#d4d4d4);border-left:1px solid #a4a6ad"></div>
<svg style="position:absolute;left:0;top:0" width="210" height="100"><path d="M52 48 L58 48 L55 51 Z" fill="#4858c0"/><path d="M141 51 L147 51 L144 48 Z" fill="#4858c0"/></svg>
<svg width="210" height="100" style="position:absolute;left:0;top:0">
<text x="2.5" y="55" font-family="Liberation Sans, Arial, sans-serif" font-size="12.5" fill="#fff" textLength="26.05" lengthAdjust="spacingAndGlyphs" shape-rendering="auto" >SELL</text>
<text x="170.8" y="55" font-family="Liberation Sans, Arial, sans-serif" font-size="12.5" fill="#fff" textLength="23.75" lengthAdjust="spacingAndGlyphs" shape-rendering="auto" >BUY</text>
<text x="106.7" y="54" font-family="Liberation Sans, Arial, sans-serif" font-size="12" fill="#000" textLength="23.72" lengthAdjust="spacingAndGlyphs" shape-rendering="auto" >1.00</text>
<text x="6.3" y="91" font-family="Liberation Sans, Arial, sans-serif" font-size="12.3" font-weight="bold" fill="#fff" textLength="35.24" lengthAdjust="spacingAndGlyphs" shape-rendering="auto" >23202</text>
<text x="116.3" y="91" font-family="Liberation Sans, Arial, sans-serif" font-size="12.3" font-weight="bold" fill="#fff" textLength="34.74" lengthAdjust="spacingAndGlyphs" shape-rendering="auto" >23217</text>
<text x="43.5" y="91.2" font-family="Liberation Serif, serif" font-size="40" fill="#fff">.</text>
<text x="51.6" y="91.5" font-family="DejaVu Sans, sans-serif" font-weight="200" font-size="33" fill="#fff" textLength="19.5" lengthAdjust="spacingAndGlyphs" stroke="#fff" stroke-width="0.7">5</text>
<text x="154.8" y="91.2" font-family="Liberation Serif, serif" font-size="40" fill="#fff">.</text>
<text x="162.8" y="91.5" font-family="DejaVu Sans, sans-serif" font-weight="200" font-size="33" fill="#fff" textLength="18" lengthAdjust="spacingAndGlyphs" stroke="#fff" stroke-width="0.7">5</text>
</svg>
</body></html>
